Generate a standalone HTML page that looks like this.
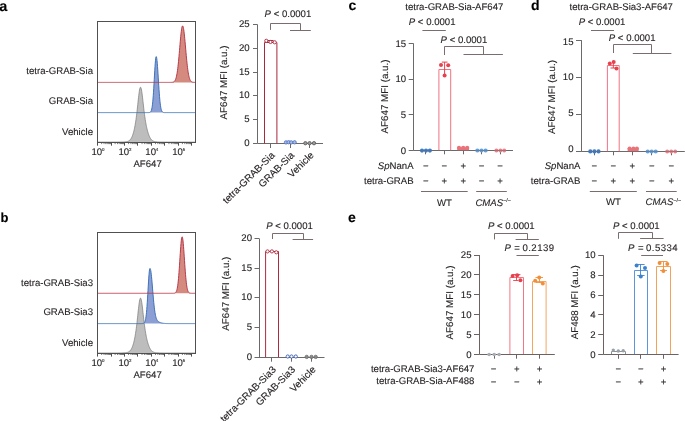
<!DOCTYPE html>
<html><head><meta charset="utf-8"><style>
html,body{margin:0;padding:0;background:#fff;width:685px;height:421px;overflow:hidden}
svg{display:block;will-change:transform}
text{font-family:"Liberation Sans", sans-serif;text-rendering:geometricPrecision;stroke:#231f20;stroke-width:0.12px;stroke-linejoin:round;paint-order:stroke}
</style></head><body>
<svg width="685" height="421" viewBox="0 0 685 421" font-family='"Liberation Sans", sans-serif'>
<rect width="685" height="421" fill="#fff"/>
<text x="-0.7" y="10.5" font-size="14.5" text-anchor="start" font-weight="bold" font-style="normal" fill="#000" >a</text>
<text x="0.4" y="222.1" font-size="13" text-anchor="start" font-weight="bold" font-style="normal" fill="#000" >b</text>
<text x="348.5" y="10.4" font-size="14" text-anchor="start" font-weight="bold" font-style="normal" fill="#000" >c</text>
<text x="531" y="10.4" font-size="14" text-anchor="start" font-weight="bold" font-style="normal" fill="#000" >d</text>
<text x="348" y="221.5" font-size="14" text-anchor="start" font-weight="bold" font-style="normal" fill="#000" >e</text>
<path d="M97.50,142.10 L97.75,142.10 L98.00,142.10 L98.25,142.10 L98.50,142.10 L98.75,142.10 L99.00,142.10 L99.25,142.10 L99.50,142.10 L99.75,142.10 L100.00,142.10 L100.25,142.10 L100.50,142.10 L100.75,142.10 L101.00,142.10 L101.25,142.10 L101.50,142.10 L101.75,142.10 L102.00,142.10 L102.25,142.10 L102.50,142.10 L102.75,142.10 L103.00,142.10 L103.25,142.10 L103.50,142.10 L103.75,142.10 L104.00,142.10 L104.25,142.10 L104.50,142.10 L104.75,142.10 L105.00,142.10 L105.25,142.10 L105.50,142.10 L105.75,142.10 L106.00,142.10 L106.25,142.10 L106.50,142.10 L106.75,142.10 L107.00,142.10 L107.25,142.10 L107.50,142.10 L107.75,142.10 L108.00,142.10 L108.25,142.10 L108.50,142.10 L108.75,142.10 L109.00,142.10 L109.25,142.10 L109.50,142.10 L109.75,142.10 L110.00,142.10 L110.25,142.10 L110.50,142.10 L110.75,142.10 L111.00,142.10 L111.25,142.10 L111.50,142.09 L111.75,142.09 L112.00,142.09 L112.25,142.09 L112.50,142.09 L112.75,142.09 L113.00,142.09 L113.25,142.09 L113.50,142.09 L113.75,142.09 L114.00,142.09 L114.25,142.09 L114.50,142.09 L114.75,142.08 L115.00,142.08 L115.25,142.08 L115.50,142.08 L115.75,142.08 L116.00,142.08 L116.25,142.08 L116.50,142.07 L116.75,142.07 L117.00,142.07 L117.25,142.07 L117.50,142.07 L117.75,142.06 L118.00,142.06 L118.25,142.06 L118.50,142.05 L118.75,142.05 L119.00,142.05 L119.25,142.04 L119.50,142.04 L119.75,142.04 L120.00,142.03 L120.25,142.03 L120.50,142.02 L120.75,142.02 L121.00,142.01 L121.25,142.01 L121.50,142.00 L121.75,141.99 L122.00,141.99 L122.25,141.98 L122.50,141.97 L122.75,141.96 L123.00,141.96 L123.25,141.95 L123.50,141.94 L123.75,141.92 L124.00,141.91 L124.25,141.90 L124.50,141.88 L124.75,141.86 L125.00,141.85 L125.25,141.82 L125.50,141.80 L125.75,141.77 L126.00,141.74 L126.25,141.70 L126.50,141.66 L126.75,141.62 L127.00,141.57 L127.25,141.50 L127.50,141.44 L127.75,141.36 L128.00,141.27 L128.25,141.16 L128.50,141.05 L128.75,140.92 L129.00,140.76 L129.25,140.59 L129.50,140.40 L129.75,140.19 L130.00,139.94 L130.25,139.67 L130.50,139.37 L130.75,139.04 L131.00,138.66 L131.25,138.25 L131.50,137.80 L131.75,137.31 L132.00,136.76 L132.25,136.17 L132.50,135.53 L132.75,134.84 L133.00,134.08 L133.25,133.27 L133.50,132.40 L133.75,131.46 L134.00,130.46 L134.25,129.38 L134.50,128.23 L134.75,126.99 L135.00,125.67 L135.25,124.25 L135.50,122.74 L135.75,121.12 L136.00,119.40 L136.25,117.57 L136.50,115.62 L136.75,113.58 L137.00,111.43 L137.25,109.20 L137.50,106.90 L137.75,104.55 L138.00,102.19 L138.25,99.86 L138.50,97.60 L138.75,95.44 L139.00,93.44 L139.25,91.65 L139.50,90.11 L139.75,88.87 L140.00,87.95 L140.25,87.39 L140.50,87.20 L140.75,87.38 L141.00,87.92 L141.25,88.80 L141.50,90.00 L141.75,91.48 L142.00,93.20 L142.25,95.12 L142.50,97.18 L142.75,99.35 L143.00,101.59 L143.25,103.84 L143.50,106.08 L143.75,108.27 L144.00,110.40 L144.25,112.45 L144.50,114.41 L144.75,116.26 L145.00,118.01 L145.25,119.67 L145.50,121.22 L145.75,122.69 L146.00,124.06 L146.25,125.36 L146.50,126.57 L146.75,127.72 L147.00,128.80 L147.25,129.82 L147.50,130.78 L147.75,131.68 L148.00,132.54 L148.25,133.33 L148.50,134.08 L148.75,134.78 L149.00,135.44 L149.25,136.04 L149.50,136.61 L149.75,137.13 L150.00,137.61 L150.25,138.05 L150.50,138.46 L150.75,138.83 L151.00,139.17 L151.25,139.48 L151.50,139.75 L151.75,140.00 L152.00,140.23 L152.25,140.43 L152.50,140.61 L152.75,140.78 L153.00,140.92 L153.25,141.05 L153.50,141.17 L153.75,141.27 L154.00,141.36 L154.25,141.44 L154.50,141.51 L154.75,141.57 L155.00,141.62 L155.25,141.67 L155.50,141.71 L155.75,141.75 L156.00,141.78 L156.25,141.81 L156.50,141.84 L156.75,141.86 L157.00,141.88 L157.25,141.90 L157.50,141.91 L157.75,141.93 L158.00,141.94 L158.25,141.95 L158.50,141.96 L158.75,141.97 L159.00,141.98 L159.25,141.99 L159.50,142.00 L159.75,142.00 L160.00,142.01 L160.25,142.02 L160.50,142.02 L160.75,142.03 L161.00,142.03 L161.25,142.04 L161.50,142.04 L161.75,142.04 L162.00,142.05 L162.25,142.05 L162.50,142.05 L162.75,142.06 L163.00,142.06 L163.25,142.06 L163.50,142.07 L163.75,142.07 L164.00,142.07 L164.25,142.07 L164.50,142.07 L164.75,142.08 L165.00,142.08 L165.25,142.08 L165.50,142.08 L165.75,142.08 L166.00,142.08 L166.25,142.08 L166.50,142.09 L166.75,142.09 L167.00,142.09 L167.25,142.09 L167.50,142.09 L167.75,142.09 L168.00,142.09 L168.25,142.09 L168.50,142.09 L168.75,142.09 L169.00,142.09 L169.25,142.09 L169.50,142.09 L169.75,142.10 L170.00,142.10 L170.25,142.10 L170.50,142.10 L170.75,142.10 L171.00,142.10 L171.25,142.10 L171.50,142.10 L171.75,142.10 L172.00,142.10 L172.25,142.10 L172.50,142.10 L172.75,142.10 L173.00,142.10 L173.25,142.10 L173.50,142.10 L173.75,142.10 L174.00,142.10 L174.25,142.10 L174.50,142.10 L174.75,142.10 L175.00,142.10 L175.25,142.10 L175.50,142.10 L175.75,142.10 L176.00,142.10 L176.25,142.10 L176.50,142.10 L176.75,142.10 L177.00,142.10 L177.25,142.10 L177.50,142.10 L177.75,142.10 L178.00,142.10 L178.25,142.10 L178.50,142.10 L178.75,142.10 L179.00,142.10 L179.25,142.10 L179.50,142.10 L179.75,142.10 L180.00,142.10 L180.25,142.10 L180.50,142.10 L180.75,142.10 L181.00,142.10 L181.25,142.10 L181.50,142.10 L181.75,142.10 L182.00,142.10 L182.25,142.10 L182.50,142.10 L182.75,142.10 L183.00,142.10 L183.25,142.10 L183.50,142.10 L183.75,142.10 L184.00,142.10 L184.25,142.10 L184.50,142.10 L184.75,142.10 L185.00,142.10 L185.25,142.10 L185.50,142.10 L185.75,142.10 L186.00,142.10 L186.25,142.10 L186.50,142.10 L186.75,142.10 L187.00,142.10 L187.25,142.10 L187.50,142.10 L187.75,142.10 L188.00,142.10 L188.25,142.10 L188.50,142.10 L188.75,142.10 L189.00,142.10 L189.25,142.10 L189.50,142.10 L189.75,142.10 L190.00,142.10 L190.25,142.10 L190.50,142.10 L190.75,142.10 L191.00,142.10 L191.25,142.10 L191.50,142.10 L191.75,142.10 L192.00,142.10 L192.25,142.10 L192.50,142.10 L192.75,142.10 L193.00,142.10 L193.25,142.10 L193.50,142.10 L193.75,142.10 L194.00,142.10 L194.25,142.10 L194.50,142.10 L194.75,142.10 L195.00,142.10 L195.25,142.10 L195.50,142.10 L195.50,142.1 L97.50,142.1 Z" fill="#bdbdbd" stroke="none"/>
<path d="M97.50,142.10 L97.75,142.10 L98.00,142.10 L98.25,142.10 L98.50,142.10 L98.75,142.10 L99.00,142.10 L99.25,142.10 L99.50,142.10 L99.75,142.10 L100.00,142.10 L100.25,142.10 L100.50,142.10 L100.75,142.10 L101.00,142.10 L101.25,142.10 L101.50,142.10 L101.75,142.10 L102.00,142.10 L102.25,142.10 L102.50,142.10 L102.75,142.10 L103.00,142.10 L103.25,142.10 L103.50,142.10 L103.75,142.10 L104.00,142.10 L104.25,142.10 L104.50,142.10 L104.75,142.10 L105.00,142.10 L105.25,142.10 L105.50,142.10 L105.75,142.10 L106.00,142.10 L106.25,142.10 L106.50,142.10 L106.75,142.10 L107.00,142.10 L107.25,142.10 L107.50,142.10 L107.75,142.10 L108.00,142.10 L108.25,142.10 L108.50,142.10 L108.75,142.10 L109.00,142.10 L109.25,142.10 L109.50,142.10 L109.75,142.10 L110.00,142.10 L110.25,142.10 L110.50,142.10 L110.75,142.10 L111.00,142.10 L111.25,142.10 L111.50,142.09 L111.75,142.09 L112.00,142.09 L112.25,142.09 L112.50,142.09 L112.75,142.09 L113.00,142.09 L113.25,142.09 L113.50,142.09 L113.75,142.09 L114.00,142.09 L114.25,142.09 L114.50,142.09 L114.75,142.08 L115.00,142.08 L115.25,142.08 L115.50,142.08 L115.75,142.08 L116.00,142.08 L116.25,142.08 L116.50,142.07 L116.75,142.07 L117.00,142.07 L117.25,142.07 L117.50,142.07 L117.75,142.06 L118.00,142.06 L118.25,142.06 L118.50,142.05 L118.75,142.05 L119.00,142.05 L119.25,142.04 L119.50,142.04 L119.75,142.04 L120.00,142.03 L120.25,142.03 L120.50,142.02 L120.75,142.02 L121.00,142.01 L121.25,142.01 L121.50,142.00 L121.75,141.99 L122.00,141.99 L122.25,141.98 L122.50,141.97 L122.75,141.96 L123.00,141.96 L123.25,141.95 L123.50,141.94 L123.75,141.92 L124.00,141.91 L124.25,141.90 L124.50,141.88 L124.75,141.86 L125.00,141.85 L125.25,141.82 L125.50,141.80 L125.75,141.77 L126.00,141.74 L126.25,141.70 L126.50,141.66 L126.75,141.62 L127.00,141.57 L127.25,141.50 L127.50,141.44 L127.75,141.36 L128.00,141.27 L128.25,141.16 L128.50,141.05 L128.75,140.92 L129.00,140.76 L129.25,140.59 L129.50,140.40 L129.75,140.19 L130.00,139.94 L130.25,139.67 L130.50,139.37 L130.75,139.04 L131.00,138.66 L131.25,138.25 L131.50,137.80 L131.75,137.31 L132.00,136.76 L132.25,136.17 L132.50,135.53 L132.75,134.84 L133.00,134.08 L133.25,133.27 L133.50,132.40 L133.75,131.46 L134.00,130.46 L134.25,129.38 L134.50,128.23 L134.75,126.99 L135.00,125.67 L135.25,124.25 L135.50,122.74 L135.75,121.12 L136.00,119.40 L136.25,117.57 L136.50,115.62 L136.75,113.58 L137.00,111.43 L137.25,109.20 L137.50,106.90 L137.75,104.55 L138.00,102.19 L138.25,99.86 L138.50,97.60 L138.75,95.44 L139.00,93.44 L139.25,91.65 L139.50,90.11 L139.75,88.87 L140.00,87.95 L140.25,87.39 L140.50,87.20 L140.75,87.38 L141.00,87.92 L141.25,88.80 L141.50,90.00 L141.75,91.48 L142.00,93.20 L142.25,95.12 L142.50,97.18 L142.75,99.35 L143.00,101.59 L143.25,103.84 L143.50,106.08 L143.75,108.27 L144.00,110.40 L144.25,112.45 L144.50,114.41 L144.75,116.26 L145.00,118.01 L145.25,119.67 L145.50,121.22 L145.75,122.69 L146.00,124.06 L146.25,125.36 L146.50,126.57 L146.75,127.72 L147.00,128.80 L147.25,129.82 L147.50,130.78 L147.75,131.68 L148.00,132.54 L148.25,133.33 L148.50,134.08 L148.75,134.78 L149.00,135.44 L149.25,136.04 L149.50,136.61 L149.75,137.13 L150.00,137.61 L150.25,138.05 L150.50,138.46 L150.75,138.83 L151.00,139.17 L151.25,139.48 L151.50,139.75 L151.75,140.00 L152.00,140.23 L152.25,140.43 L152.50,140.61 L152.75,140.78 L153.00,140.92 L153.25,141.05 L153.50,141.17 L153.75,141.27 L154.00,141.36 L154.25,141.44 L154.50,141.51 L154.75,141.57 L155.00,141.62 L155.25,141.67 L155.50,141.71 L155.75,141.75 L156.00,141.78 L156.25,141.81 L156.50,141.84 L156.75,141.86 L157.00,141.88 L157.25,141.90 L157.50,141.91 L157.75,141.93 L158.00,141.94 L158.25,141.95 L158.50,141.96 L158.75,141.97 L159.00,141.98 L159.25,141.99 L159.50,142.00 L159.75,142.00 L160.00,142.01 L160.25,142.02 L160.50,142.02 L160.75,142.03 L161.00,142.03 L161.25,142.04 L161.50,142.04 L161.75,142.04 L162.00,142.05 L162.25,142.05 L162.50,142.05 L162.75,142.06 L163.00,142.06 L163.25,142.06 L163.50,142.07 L163.75,142.07 L164.00,142.07 L164.25,142.07 L164.50,142.07 L164.75,142.08 L165.00,142.08 L165.25,142.08 L165.50,142.08 L165.75,142.08 L166.00,142.08 L166.25,142.08 L166.50,142.09 L166.75,142.09 L167.00,142.09 L167.25,142.09 L167.50,142.09 L167.75,142.09 L168.00,142.09 L168.25,142.09 L168.50,142.09 L168.75,142.09 L169.00,142.09 L169.25,142.09 L169.50,142.09 L169.75,142.10 L170.00,142.10 L170.25,142.10 L170.50,142.10 L170.75,142.10 L171.00,142.10 L171.25,142.10 L171.50,142.10 L171.75,142.10 L172.00,142.10 L172.25,142.10 L172.50,142.10 L172.75,142.10 L173.00,142.10 L173.25,142.10 L173.50,142.10 L173.75,142.10 L174.00,142.10 L174.25,142.10 L174.50,142.10 L174.75,142.10 L175.00,142.10 L175.25,142.10 L175.50,142.10 L175.75,142.10 L176.00,142.10 L176.25,142.10 L176.50,142.10 L176.75,142.10 L177.00,142.10 L177.25,142.10 L177.50,142.10 L177.75,142.10 L178.00,142.10 L178.25,142.10 L178.50,142.10 L178.75,142.10 L179.00,142.10 L179.25,142.10 L179.50,142.10 L179.75,142.10 L180.00,142.10 L180.25,142.10 L180.50,142.10 L180.75,142.10 L181.00,142.10 L181.25,142.10 L181.50,142.10 L181.75,142.10 L182.00,142.10 L182.25,142.10 L182.50,142.10 L182.75,142.10 L183.00,142.10 L183.25,142.10 L183.50,142.10 L183.75,142.10 L184.00,142.10 L184.25,142.10 L184.50,142.10 L184.75,142.10 L185.00,142.10 L185.25,142.10 L185.50,142.10 L185.75,142.10 L186.00,142.10 L186.25,142.10 L186.50,142.10 L186.75,142.10 L187.00,142.10 L187.25,142.10 L187.50,142.10 L187.75,142.10 L188.00,142.10 L188.25,142.10 L188.50,142.10 L188.75,142.10 L189.00,142.10 L189.25,142.10 L189.50,142.10 L189.75,142.10 L190.00,142.10 L190.25,142.10 L190.50,142.10 L190.75,142.10 L191.00,142.10 L191.25,142.10 L191.50,142.10 L191.75,142.10 L192.00,142.10 L192.25,142.10 L192.50,142.10 L192.75,142.10 L193.00,142.10 L193.25,142.10 L193.50,142.10 L193.75,142.10 L194.00,142.10 L194.25,142.10 L194.50,142.10 L194.75,142.10 L195.00,142.10 L195.25,142.10 L195.50,142.10" fill="none" stroke="#777777" stroke-width="0.7"/>
<path d="M97.50,112.60 L97.75,112.60 L98.00,112.60 L98.25,112.60 L98.50,112.60 L98.75,112.60 L99.00,112.60 L99.25,112.60 L99.50,112.60 L99.75,112.60 L100.00,112.60 L100.25,112.60 L100.50,112.60 L100.75,112.60 L101.00,112.60 L101.25,112.60 L101.50,112.60 L101.75,112.60 L102.00,112.60 L102.25,112.60 L102.50,112.60 L102.75,112.60 L103.00,112.60 L103.25,112.60 L103.50,112.60 L103.75,112.60 L104.00,112.60 L104.25,112.60 L104.50,112.60 L104.75,112.60 L105.00,112.60 L105.25,112.60 L105.50,112.60 L105.75,112.60 L106.00,112.60 L106.25,112.60 L106.50,112.60 L106.75,112.60 L107.00,112.60 L107.25,112.60 L107.50,112.60 L107.75,112.60 L108.00,112.60 L108.25,112.60 L108.50,112.60 L108.75,112.60 L109.00,112.60 L109.25,112.60 L109.50,112.60 L109.75,112.60 L110.00,112.60 L110.25,112.60 L110.50,112.60 L110.75,112.60 L111.00,112.60 L111.25,112.60 L111.50,112.60 L111.75,112.60 L112.00,112.60 L112.25,112.60 L112.50,112.60 L112.75,112.60 L113.00,112.60 L113.25,112.60 L113.50,112.60 L113.75,112.60 L114.00,112.60 L114.25,112.60 L114.50,112.60 L114.75,112.60 L115.00,112.60 L115.25,112.60 L115.50,112.60 L115.75,112.60 L116.00,112.60 L116.25,112.60 L116.50,112.60 L116.75,112.60 L117.00,112.60 L117.25,112.60 L117.50,112.60 L117.75,112.60 L118.00,112.60 L118.25,112.60 L118.50,112.60 L118.75,112.60 L119.00,112.60 L119.25,112.60 L119.50,112.60 L119.75,112.60 L120.00,112.60 L120.25,112.60 L120.50,112.60 L120.75,112.60 L121.00,112.60 L121.25,112.60 L121.50,112.60 L121.75,112.60 L122.00,112.60 L122.25,112.60 L122.50,112.60 L122.75,112.60 L123.00,112.60 L123.25,112.60 L123.50,112.60 L123.75,112.60 L124.00,112.60 L124.25,112.60 L124.50,112.60 L124.75,112.60 L125.00,112.60 L125.25,112.60 L125.50,112.60 L125.75,112.60 L126.00,112.60 L126.25,112.60 L126.50,112.60 L126.75,112.60 L127.00,112.60 L127.25,112.60 L127.50,112.60 L127.75,112.60 L128.00,112.60 L128.25,112.60 L128.50,112.60 L128.75,112.60 L129.00,112.60 L129.25,112.60 L129.50,112.60 L129.75,112.60 L130.00,112.60 L130.25,112.60 L130.50,112.60 L130.75,112.60 L131.00,112.60 L131.25,112.60 L131.50,112.60 L131.75,112.60 L132.00,112.60 L132.25,112.60 L132.50,112.60 L132.75,112.60 L133.00,112.60 L133.25,112.60 L133.50,112.60 L133.75,112.60 L134.00,112.60 L134.25,112.60 L134.50,112.60 L134.75,112.60 L135.00,112.60 L135.25,112.60 L135.50,112.60 L135.75,112.60 L136.00,112.60 L136.25,112.60 L136.50,112.60 L136.75,112.60 L137.00,112.60 L137.25,112.60 L137.50,112.60 L137.75,112.60 L138.00,112.60 L138.25,112.60 L138.50,112.60 L138.75,112.60 L139.00,112.60 L139.25,112.60 L139.50,112.60 L139.75,112.60 L140.00,112.60 L140.25,112.60 L140.50,112.60 L140.75,112.60 L141.00,112.60 L141.25,112.60 L141.50,112.60 L141.75,112.60 L142.00,112.60 L142.25,112.60 L142.50,112.60 L142.75,112.60 L143.00,112.60 L143.25,112.60 L143.50,112.60 L143.75,112.60 L144.00,112.60 L144.25,112.60 L144.50,112.60 L144.75,112.60 L145.00,112.60 L145.25,112.60 L145.50,112.60 L145.75,112.60 L146.00,112.60 L146.25,112.60 L146.50,112.60 L146.75,112.60 L147.00,112.60 L147.25,112.60 L147.50,112.60 L147.75,112.60 L148.00,112.59 L148.25,112.59 L148.50,112.58 L148.75,112.57 L149.00,112.56 L149.25,112.53 L149.50,112.49 L149.75,112.42 L150.00,112.33 L150.25,112.18 L150.50,111.98 L150.75,111.68 L151.00,111.28 L151.25,110.72 L151.50,109.97 L151.75,108.99 L152.00,107.73 L152.25,106.15 L152.50,104.19 L152.75,101.83 L153.00,99.04 L153.25,95.82 L153.50,92.20 L153.75,88.21 L154.00,83.95 L154.25,79.53 L154.50,75.07 L154.75,70.75 L155.00,66.73 L155.25,63.18 L155.50,60.27 L155.75,58.15 L156.00,56.91 L156.25,56.62 L156.50,57.17 L156.75,58.49 L157.00,60.52 L157.25,63.18 L157.50,66.36 L157.75,69.95 L158.00,73.82 L158.25,77.83 L158.50,81.86 L158.75,85.81 L159.00,89.58 L159.25,93.10 L159.50,96.31 L159.75,99.18 L160.00,101.71 L160.25,103.88 L160.50,105.72 L160.75,107.24 L161.00,108.49 L161.25,109.49 L161.50,110.28 L161.75,110.90 L162.00,111.36 L162.25,111.72 L162.50,111.98 L162.75,112.17 L163.00,112.30 L163.25,112.40 L163.50,112.47 L163.75,112.51 L164.00,112.54 L164.25,112.56 L164.50,112.58 L164.75,112.59 L165.00,112.59 L165.25,112.59 L165.50,112.60 L165.75,112.60 L166.00,112.60 L166.25,112.60 L166.50,112.60 L166.75,112.60 L167.00,112.60 L167.25,112.60 L167.50,112.60 L167.75,112.60 L168.00,112.60 L168.25,112.60 L168.50,112.60 L168.75,112.60 L169.00,112.60 L169.25,112.60 L169.50,112.60 L169.75,112.60 L170.00,112.60 L170.25,112.60 L170.50,112.60 L170.75,112.60 L171.00,112.60 L171.25,112.60 L171.50,112.60 L171.75,112.60 L172.00,112.60 L172.25,112.60 L172.50,112.60 L172.75,112.60 L173.00,112.60 L173.25,112.60 L173.50,112.60 L173.75,112.60 L174.00,112.60 L174.25,112.60 L174.50,112.60 L174.75,112.60 L175.00,112.60 L175.25,112.60 L175.50,112.60 L175.75,112.60 L176.00,112.60 L176.25,112.60 L176.50,112.60 L176.75,112.60 L177.00,112.60 L177.25,112.60 L177.50,112.60 L177.75,112.60 L178.00,112.60 L178.25,112.60 L178.50,112.60 L178.75,112.60 L179.00,112.60 L179.25,112.60 L179.50,112.60 L179.75,112.60 L180.00,112.60 L180.25,112.60 L180.50,112.60 L180.75,112.60 L181.00,112.60 L181.25,112.60 L181.50,112.60 L181.75,112.60 L182.00,112.60 L182.25,112.60 L182.50,112.60 L182.75,112.60 L183.00,112.60 L183.25,112.60 L183.50,112.60 L183.75,112.60 L184.00,112.60 L184.25,112.60 L184.50,112.60 L184.75,112.60 L185.00,112.60 L185.25,112.60 L185.50,112.60 L185.75,112.60 L186.00,112.60 L186.25,112.60 L186.50,112.60 L186.75,112.60 L187.00,112.60 L187.25,112.60 L187.50,112.60 L187.75,112.60 L188.00,112.60 L188.25,112.60 L188.50,112.60 L188.75,112.60 L189.00,112.60 L189.25,112.60 L189.50,112.60 L189.75,112.60 L190.00,112.60 L190.25,112.60 L190.50,112.60 L190.75,112.60 L191.00,112.60 L191.25,112.60 L191.50,112.60 L191.75,112.60 L192.00,112.60 L192.25,112.60 L192.50,112.60 L192.75,112.60 L193.00,112.60 L193.25,112.60 L193.50,112.60 L193.75,112.60 L194.00,112.60 L194.25,112.60 L194.50,112.60 L194.75,112.60 L195.00,112.60 L195.25,112.60 L195.50,112.60 L195.50,112.6 L97.50,112.6 Z" fill="#8c9fd4" stroke="none"/>
<path d="M97.50,112.60 L97.75,112.60 L98.00,112.60 L98.25,112.60 L98.50,112.60 L98.75,112.60 L99.00,112.60 L99.25,112.60 L99.50,112.60 L99.75,112.60 L100.00,112.60 L100.25,112.60 L100.50,112.60 L100.75,112.60 L101.00,112.60 L101.25,112.60 L101.50,112.60 L101.75,112.60 L102.00,112.60 L102.25,112.60 L102.50,112.60 L102.75,112.60 L103.00,112.60 L103.25,112.60 L103.50,112.60 L103.75,112.60 L104.00,112.60 L104.25,112.60 L104.50,112.60 L104.75,112.60 L105.00,112.60 L105.25,112.60 L105.50,112.60 L105.75,112.60 L106.00,112.60 L106.25,112.60 L106.50,112.60 L106.75,112.60 L107.00,112.60 L107.25,112.60 L107.50,112.60 L107.75,112.60 L108.00,112.60 L108.25,112.60 L108.50,112.60 L108.75,112.60 L109.00,112.60 L109.25,112.60 L109.50,112.60 L109.75,112.60 L110.00,112.60 L110.25,112.60 L110.50,112.60 L110.75,112.60 L111.00,112.60 L111.25,112.60 L111.50,112.60 L111.75,112.60 L112.00,112.60 L112.25,112.60 L112.50,112.60 L112.75,112.60 L113.00,112.60 L113.25,112.60 L113.50,112.60 L113.75,112.60 L114.00,112.60 L114.25,112.60 L114.50,112.60 L114.75,112.60 L115.00,112.60 L115.25,112.60 L115.50,112.60 L115.75,112.60 L116.00,112.60 L116.25,112.60 L116.50,112.60 L116.75,112.60 L117.00,112.60 L117.25,112.60 L117.50,112.60 L117.75,112.60 L118.00,112.60 L118.25,112.60 L118.50,112.60 L118.75,112.60 L119.00,112.60 L119.25,112.60 L119.50,112.60 L119.75,112.60 L120.00,112.60 L120.25,112.60 L120.50,112.60 L120.75,112.60 L121.00,112.60 L121.25,112.60 L121.50,112.60 L121.75,112.60 L122.00,112.60 L122.25,112.60 L122.50,112.60 L122.75,112.60 L123.00,112.60 L123.25,112.60 L123.50,112.60 L123.75,112.60 L124.00,112.60 L124.25,112.60 L124.50,112.60 L124.75,112.60 L125.00,112.60 L125.25,112.60 L125.50,112.60 L125.75,112.60 L126.00,112.60 L126.25,112.60 L126.50,112.60 L126.75,112.60 L127.00,112.60 L127.25,112.60 L127.50,112.60 L127.75,112.60 L128.00,112.60 L128.25,112.60 L128.50,112.60 L128.75,112.60 L129.00,112.60 L129.25,112.60 L129.50,112.60 L129.75,112.60 L130.00,112.60 L130.25,112.60 L130.50,112.60 L130.75,112.60 L131.00,112.60 L131.25,112.60 L131.50,112.60 L131.75,112.60 L132.00,112.60 L132.25,112.60 L132.50,112.60 L132.75,112.60 L133.00,112.60 L133.25,112.60 L133.50,112.60 L133.75,112.60 L134.00,112.60 L134.25,112.60 L134.50,112.60 L134.75,112.60 L135.00,112.60 L135.25,112.60 L135.50,112.60 L135.75,112.60 L136.00,112.60 L136.25,112.60 L136.50,112.60 L136.75,112.60 L137.00,112.60 L137.25,112.60 L137.50,112.60 L137.75,112.60 L138.00,112.60 L138.25,112.60 L138.50,112.60 L138.75,112.60 L139.00,112.60 L139.25,112.60 L139.50,112.60 L139.75,112.60 L140.00,112.60 L140.25,112.60 L140.50,112.60 L140.75,112.60 L141.00,112.60 L141.25,112.60 L141.50,112.60 L141.75,112.60 L142.00,112.60 L142.25,112.60 L142.50,112.60 L142.75,112.60 L143.00,112.60 L143.25,112.60 L143.50,112.60 L143.75,112.60 L144.00,112.60 L144.25,112.60 L144.50,112.60 L144.75,112.60 L145.00,112.60 L145.25,112.60 L145.50,112.60 L145.75,112.60 L146.00,112.60 L146.25,112.60 L146.50,112.60 L146.75,112.60 L147.00,112.60 L147.25,112.60 L147.50,112.60 L147.75,112.60 L148.00,112.59 L148.25,112.59 L148.50,112.58 L148.75,112.57 L149.00,112.56 L149.25,112.53 L149.50,112.49 L149.75,112.42 L150.00,112.33 L150.25,112.18 L150.50,111.98 L150.75,111.68 L151.00,111.28 L151.25,110.72 L151.50,109.97 L151.75,108.99 L152.00,107.73 L152.25,106.15 L152.50,104.19 L152.75,101.83 L153.00,99.04 L153.25,95.82 L153.50,92.20 L153.75,88.21 L154.00,83.95 L154.25,79.53 L154.50,75.07 L154.75,70.75 L155.00,66.73 L155.25,63.18 L155.50,60.27 L155.75,58.15 L156.00,56.91 L156.25,56.62 L156.50,57.17 L156.75,58.49 L157.00,60.52 L157.25,63.18 L157.50,66.36 L157.75,69.95 L158.00,73.82 L158.25,77.83 L158.50,81.86 L158.75,85.81 L159.00,89.58 L159.25,93.10 L159.50,96.31 L159.75,99.18 L160.00,101.71 L160.25,103.88 L160.50,105.72 L160.75,107.24 L161.00,108.49 L161.25,109.49 L161.50,110.28 L161.75,110.90 L162.00,111.36 L162.25,111.72 L162.50,111.98 L162.75,112.17 L163.00,112.30 L163.25,112.40 L163.50,112.47 L163.75,112.51 L164.00,112.54 L164.25,112.56 L164.50,112.58 L164.75,112.59 L165.00,112.59 L165.25,112.59 L165.50,112.60 L165.75,112.60 L166.00,112.60 L166.25,112.60 L166.50,112.60 L166.75,112.60 L167.00,112.60 L167.25,112.60 L167.50,112.60 L167.75,112.60 L168.00,112.60 L168.25,112.60 L168.50,112.60 L168.75,112.60 L169.00,112.60 L169.25,112.60 L169.50,112.60 L169.75,112.60 L170.00,112.60 L170.25,112.60 L170.50,112.60 L170.75,112.60 L171.00,112.60 L171.25,112.60 L171.50,112.60 L171.75,112.60 L172.00,112.60 L172.25,112.60 L172.50,112.60 L172.75,112.60 L173.00,112.60 L173.25,112.60 L173.50,112.60 L173.75,112.60 L174.00,112.60 L174.25,112.60 L174.50,112.60 L174.75,112.60 L175.00,112.60 L175.25,112.60 L175.50,112.60 L175.75,112.60 L176.00,112.60 L176.25,112.60 L176.50,112.60 L176.75,112.60 L177.00,112.60 L177.25,112.60 L177.50,112.60 L177.75,112.60 L178.00,112.60 L178.25,112.60 L178.50,112.60 L178.75,112.60 L179.00,112.60 L179.25,112.60 L179.50,112.60 L179.75,112.60 L180.00,112.60 L180.25,112.60 L180.50,112.60 L180.75,112.60 L181.00,112.60 L181.25,112.60 L181.50,112.60 L181.75,112.60 L182.00,112.60 L182.25,112.60 L182.50,112.60 L182.75,112.60 L183.00,112.60 L183.25,112.60 L183.50,112.60 L183.75,112.60 L184.00,112.60 L184.25,112.60 L184.50,112.60 L184.75,112.60 L185.00,112.60 L185.25,112.60 L185.50,112.60 L185.75,112.60 L186.00,112.60 L186.25,112.60 L186.50,112.60 L186.75,112.60 L187.00,112.60 L187.25,112.60 L187.50,112.60 L187.75,112.60 L188.00,112.60 L188.25,112.60 L188.50,112.60 L188.75,112.60 L189.00,112.60 L189.25,112.60 L189.50,112.60 L189.75,112.60 L190.00,112.60 L190.25,112.60 L190.50,112.60 L190.75,112.60 L191.00,112.60 L191.25,112.60 L191.50,112.60 L191.75,112.60 L192.00,112.60 L192.25,112.60 L192.50,112.60 L192.75,112.60 L193.00,112.60 L193.25,112.60 L193.50,112.60 L193.75,112.60 L194.00,112.60 L194.25,112.60 L194.50,112.60 L194.75,112.60 L195.00,112.60 L195.25,112.60 L195.50,112.60" fill="none" stroke="#3d72b8" stroke-width="1.0"/>
<path d="M97.50,82.40 L97.75,82.40 L98.00,82.40 L98.25,82.40 L98.50,82.40 L98.75,82.40 L99.00,82.40 L99.25,82.40 L99.50,82.40 L99.75,82.40 L100.00,82.40 L100.25,82.40 L100.50,82.40 L100.75,82.40 L101.00,82.40 L101.25,82.40 L101.50,82.40 L101.75,82.40 L102.00,82.40 L102.25,82.40 L102.50,82.40 L102.75,82.40 L103.00,82.40 L103.25,82.40 L103.50,82.40 L103.75,82.40 L104.00,82.40 L104.25,82.40 L104.50,82.40 L104.75,82.40 L105.00,82.40 L105.25,82.40 L105.50,82.40 L105.75,82.40 L106.00,82.40 L106.25,82.40 L106.50,82.40 L106.75,82.40 L107.00,82.40 L107.25,82.40 L107.50,82.40 L107.75,82.40 L108.00,82.40 L108.25,82.40 L108.50,82.40 L108.75,82.40 L109.00,82.40 L109.25,82.40 L109.50,82.40 L109.75,82.40 L110.00,82.40 L110.25,82.40 L110.50,82.40 L110.75,82.40 L111.00,82.40 L111.25,82.40 L111.50,82.40 L111.75,82.40 L112.00,82.40 L112.25,82.40 L112.50,82.40 L112.75,82.40 L113.00,82.40 L113.25,82.40 L113.50,82.40 L113.75,82.40 L114.00,82.40 L114.25,82.40 L114.50,82.40 L114.75,82.40 L115.00,82.40 L115.25,82.40 L115.50,82.40 L115.75,82.40 L116.00,82.40 L116.25,82.40 L116.50,82.40 L116.75,82.40 L117.00,82.40 L117.25,82.40 L117.50,82.40 L117.75,82.40 L118.00,82.40 L118.25,82.40 L118.50,82.40 L118.75,82.40 L119.00,82.40 L119.25,82.40 L119.50,82.40 L119.75,82.40 L120.00,82.40 L120.25,82.40 L120.50,82.40 L120.75,82.40 L121.00,82.40 L121.25,82.40 L121.50,82.40 L121.75,82.40 L122.00,82.40 L122.25,82.40 L122.50,82.40 L122.75,82.40 L123.00,82.40 L123.25,82.40 L123.50,82.40 L123.75,82.40 L124.00,82.40 L124.25,82.40 L124.50,82.40 L124.75,82.40 L125.00,82.40 L125.25,82.40 L125.50,82.40 L125.75,82.40 L126.00,82.40 L126.25,82.40 L126.50,82.40 L126.75,82.40 L127.00,82.40 L127.25,82.40 L127.50,82.40 L127.75,82.40 L128.00,82.40 L128.25,82.40 L128.50,82.40 L128.75,82.40 L129.00,82.40 L129.25,82.40 L129.50,82.40 L129.75,82.40 L130.00,82.40 L130.25,82.40 L130.50,82.40 L130.75,82.40 L131.00,82.40 L131.25,82.40 L131.50,82.40 L131.75,82.40 L132.00,82.40 L132.25,82.40 L132.50,82.40 L132.75,82.40 L133.00,82.40 L133.25,82.40 L133.50,82.40 L133.75,82.40 L134.00,82.40 L134.25,82.40 L134.50,82.40 L134.75,82.40 L135.00,82.40 L135.25,82.40 L135.50,82.40 L135.75,82.40 L136.00,82.40 L136.25,82.40 L136.50,82.40 L136.75,82.40 L137.00,82.40 L137.25,82.40 L137.50,82.40 L137.75,82.40 L138.00,82.40 L138.25,82.40 L138.50,82.40 L138.75,82.40 L139.00,82.40 L139.25,82.40 L139.50,82.40 L139.75,82.40 L140.00,82.40 L140.25,82.40 L140.50,82.40 L140.75,82.40 L141.00,82.40 L141.25,82.40 L141.50,82.40 L141.75,82.40 L142.00,82.40 L142.25,82.40 L142.50,82.40 L142.75,82.40 L143.00,82.40 L143.25,82.40 L143.50,82.40 L143.75,82.40 L144.00,82.40 L144.25,82.40 L144.50,82.40 L144.75,82.40 L145.00,82.40 L145.25,82.40 L145.50,82.40 L145.75,82.40 L146.00,82.40 L146.25,82.40 L146.50,82.40 L146.75,82.40 L147.00,82.40 L147.25,82.40 L147.50,82.40 L147.75,82.40 L148.00,82.40 L148.25,82.40 L148.50,82.40 L148.75,82.40 L149.00,82.40 L149.25,82.40 L149.50,82.40 L149.75,82.40 L150.00,82.40 L150.25,82.40 L150.50,82.40 L150.75,82.40 L151.00,82.40 L151.25,82.40 L151.50,82.40 L151.75,82.40 L152.00,82.40 L152.25,82.40 L152.50,82.40 L152.75,82.40 L153.00,82.40 L153.25,82.40 L153.50,82.40 L153.75,82.40 L154.00,82.40 L154.25,82.40 L154.50,82.40 L154.75,82.40 L155.00,82.40 L155.25,82.40 L155.50,82.40 L155.75,82.40 L156.00,82.40 L156.25,82.40 L156.50,82.40 L156.75,82.40 L157.00,82.40 L157.25,82.40 L157.50,82.40 L157.75,82.40 L158.00,82.40 L158.25,82.40 L158.50,82.40 L158.75,82.40 L159.00,82.40 L159.25,82.40 L159.50,82.40 L159.75,82.40 L160.00,82.40 L160.25,82.40 L160.50,82.40 L160.75,82.40 L161.00,82.40 L161.25,82.40 L161.50,82.40 L161.75,82.40 L162.00,82.40 L162.25,82.40 L162.50,82.40 L162.75,82.40 L163.00,82.40 L163.25,82.40 L163.50,82.40 L163.75,82.40 L164.00,82.40 L164.25,82.40 L164.50,82.40 L164.75,82.40 L165.00,82.40 L165.25,82.40 L165.50,82.40 L165.75,82.40 L166.00,82.40 L166.25,82.40 L166.50,82.40 L166.75,82.40 L167.00,82.40 L167.25,82.40 L167.50,82.40 L167.75,82.40 L168.00,82.40 L168.25,82.40 L168.50,82.40 L168.75,82.40 L169.00,82.40 L169.25,82.40 L169.50,82.40 L169.75,82.40 L170.00,82.40 L170.25,82.39 L170.50,82.39 L170.75,82.39 L171.00,82.38 L171.25,82.37 L171.50,82.36 L171.75,82.35 L172.00,82.33 L172.25,82.30 L172.50,82.27 L172.75,82.22 L173.00,82.16 L173.25,82.09 L173.50,81.99 L173.75,81.86 L174.00,81.70 L174.25,81.51 L174.50,81.26 L174.75,80.95 L175.00,80.58 L175.25,80.12 L175.50,79.58 L175.75,78.93 L176.00,78.16 L176.25,77.26 L176.50,76.22 L176.75,75.01 L177.00,73.64 L177.25,72.10 L177.50,70.36 L177.75,68.45 L178.00,66.34 L178.25,64.06 L178.50,61.60 L178.75,58.99 L179.00,56.25 L179.25,53.41 L179.50,50.49 L179.75,47.54 L180.00,44.60 L180.25,41.71 L180.50,38.93 L180.75,36.30 L181.00,33.88 L181.25,31.70 L181.50,29.82 L181.75,28.28 L182.00,27.10 L182.25,26.31 L182.50,25.93 L182.75,25.97 L183.00,26.40 L183.25,27.21 L183.50,28.39 L183.75,29.90 L184.00,31.73 L184.25,33.83 L184.50,36.17 L184.75,38.70 L185.00,41.37 L185.25,44.15 L185.50,46.99 L185.75,49.84 L186.00,52.67 L186.25,55.45 L186.50,58.13 L186.75,60.70 L187.00,63.13 L187.25,65.40 L187.50,67.52 L187.75,69.45 L188.00,71.22 L188.25,72.81 L188.50,74.23 L188.75,75.49 L189.00,76.60 L189.25,77.56 L189.50,78.39 L189.75,79.10 L190.00,79.70 L190.25,80.21 L190.50,80.64 L190.75,80.99 L191.00,81.28 L191.25,81.52 L191.50,81.71 L191.75,81.86 L192.00,81.98 L192.25,82.08 L192.50,82.16 L192.75,82.22 L193.00,82.26 L193.25,82.30 L193.50,82.32 L193.75,82.34 L194.00,82.36 L194.25,82.37 L194.50,82.38 L194.75,82.38 L195.00,82.39 L195.25,82.39 L195.50,82.39 L195.50,82.4 L97.50,82.4 Z" fill="#d58a80" stroke="none"/>
<path d="M97.50,82.40 L97.75,82.40 L98.00,82.40 L98.25,82.40 L98.50,82.40 L98.75,82.40 L99.00,82.40 L99.25,82.40 L99.50,82.40 L99.75,82.40 L100.00,82.40 L100.25,82.40 L100.50,82.40 L100.75,82.40 L101.00,82.40 L101.25,82.40 L101.50,82.40 L101.75,82.40 L102.00,82.40 L102.25,82.40 L102.50,82.40 L102.75,82.40 L103.00,82.40 L103.25,82.40 L103.50,82.40 L103.75,82.40 L104.00,82.40 L104.25,82.40 L104.50,82.40 L104.75,82.40 L105.00,82.40 L105.25,82.40 L105.50,82.40 L105.75,82.40 L106.00,82.40 L106.25,82.40 L106.50,82.40 L106.75,82.40 L107.00,82.40 L107.25,82.40 L107.50,82.40 L107.75,82.40 L108.00,82.40 L108.25,82.40 L108.50,82.40 L108.75,82.40 L109.00,82.40 L109.25,82.40 L109.50,82.40 L109.75,82.40 L110.00,82.40 L110.25,82.40 L110.50,82.40 L110.75,82.40 L111.00,82.40 L111.25,82.40 L111.50,82.40 L111.75,82.40 L112.00,82.40 L112.25,82.40 L112.50,82.40 L112.75,82.40 L113.00,82.40 L113.25,82.40 L113.50,82.40 L113.75,82.40 L114.00,82.40 L114.25,82.40 L114.50,82.40 L114.75,82.40 L115.00,82.40 L115.25,82.40 L115.50,82.40 L115.75,82.40 L116.00,82.40 L116.25,82.40 L116.50,82.40 L116.75,82.40 L117.00,82.40 L117.25,82.40 L117.50,82.40 L117.75,82.40 L118.00,82.40 L118.25,82.40 L118.50,82.40 L118.75,82.40 L119.00,82.40 L119.25,82.40 L119.50,82.40 L119.75,82.40 L120.00,82.40 L120.25,82.40 L120.50,82.40 L120.75,82.40 L121.00,82.40 L121.25,82.40 L121.50,82.40 L121.75,82.40 L122.00,82.40 L122.25,82.40 L122.50,82.40 L122.75,82.40 L123.00,82.40 L123.25,82.40 L123.50,82.40 L123.75,82.40 L124.00,82.40 L124.25,82.40 L124.50,82.40 L124.75,82.40 L125.00,82.40 L125.25,82.40 L125.50,82.40 L125.75,82.40 L126.00,82.40 L126.25,82.40 L126.50,82.40 L126.75,82.40 L127.00,82.40 L127.25,82.40 L127.50,82.40 L127.75,82.40 L128.00,82.40 L128.25,82.40 L128.50,82.40 L128.75,82.40 L129.00,82.40 L129.25,82.40 L129.50,82.40 L129.75,82.40 L130.00,82.40 L130.25,82.40 L130.50,82.40 L130.75,82.40 L131.00,82.40 L131.25,82.40 L131.50,82.40 L131.75,82.40 L132.00,82.40 L132.25,82.40 L132.50,82.40 L132.75,82.40 L133.00,82.40 L133.25,82.40 L133.50,82.40 L133.75,82.40 L134.00,82.40 L134.25,82.40 L134.50,82.40 L134.75,82.40 L135.00,82.40 L135.25,82.40 L135.50,82.40 L135.75,82.40 L136.00,82.40 L136.25,82.40 L136.50,82.40 L136.75,82.40 L137.00,82.40 L137.25,82.40 L137.50,82.40 L137.75,82.40 L138.00,82.40 L138.25,82.40 L138.50,82.40 L138.75,82.40 L139.00,82.40 L139.25,82.40 L139.50,82.40 L139.75,82.40 L140.00,82.40 L140.25,82.40 L140.50,82.40 L140.75,82.40 L141.00,82.40 L141.25,82.40 L141.50,82.40 L141.75,82.40 L142.00,82.40 L142.25,82.40 L142.50,82.40 L142.75,82.40 L143.00,82.40 L143.25,82.40 L143.50,82.40 L143.75,82.40 L144.00,82.40 L144.25,82.40 L144.50,82.40 L144.75,82.40 L145.00,82.40 L145.25,82.40 L145.50,82.40 L145.75,82.40 L146.00,82.40 L146.25,82.40 L146.50,82.40 L146.75,82.40 L147.00,82.40 L147.25,82.40 L147.50,82.40 L147.75,82.40 L148.00,82.40 L148.25,82.40 L148.50,82.40 L148.75,82.40 L149.00,82.40 L149.25,82.40 L149.50,82.40 L149.75,82.40 L150.00,82.40 L150.25,82.40 L150.50,82.40 L150.75,82.40 L151.00,82.40 L151.25,82.40 L151.50,82.40 L151.75,82.40 L152.00,82.40 L152.25,82.40 L152.50,82.40 L152.75,82.40 L153.00,82.40 L153.25,82.40 L153.50,82.40 L153.75,82.40 L154.00,82.40 L154.25,82.40 L154.50,82.40 L154.75,82.40 L155.00,82.40 L155.25,82.40 L155.50,82.40 L155.75,82.40 L156.00,82.40 L156.25,82.40 L156.50,82.40 L156.75,82.40 L157.00,82.40 L157.25,82.40 L157.50,82.40 L157.75,82.40 L158.00,82.40 L158.25,82.40 L158.50,82.40 L158.75,82.40 L159.00,82.40 L159.25,82.40 L159.50,82.40 L159.75,82.40 L160.00,82.40 L160.25,82.40 L160.50,82.40 L160.75,82.40 L161.00,82.40 L161.25,82.40 L161.50,82.40 L161.75,82.40 L162.00,82.40 L162.25,82.40 L162.50,82.40 L162.75,82.40 L163.00,82.40 L163.25,82.40 L163.50,82.40 L163.75,82.40 L164.00,82.40 L164.25,82.40 L164.50,82.40 L164.75,82.40 L165.00,82.40 L165.25,82.40 L165.50,82.40 L165.75,82.40 L166.00,82.40 L166.25,82.40 L166.50,82.40 L166.75,82.40 L167.00,82.40 L167.25,82.40 L167.50,82.40 L167.75,82.40 L168.00,82.40 L168.25,82.40 L168.50,82.40 L168.75,82.40 L169.00,82.40 L169.25,82.40 L169.50,82.40 L169.75,82.40 L170.00,82.40 L170.25,82.39 L170.50,82.39 L170.75,82.39 L171.00,82.38 L171.25,82.37 L171.50,82.36 L171.75,82.35 L172.00,82.33 L172.25,82.30 L172.50,82.27 L172.75,82.22 L173.00,82.16 L173.25,82.09 L173.50,81.99 L173.75,81.86 L174.00,81.70 L174.25,81.51 L174.50,81.26 L174.75,80.95 L175.00,80.58 L175.25,80.12 L175.50,79.58 L175.75,78.93 L176.00,78.16 L176.25,77.26 L176.50,76.22 L176.75,75.01 L177.00,73.64 L177.25,72.10 L177.50,70.36 L177.75,68.45 L178.00,66.34 L178.25,64.06 L178.50,61.60 L178.75,58.99 L179.00,56.25 L179.25,53.41 L179.50,50.49 L179.75,47.54 L180.00,44.60 L180.25,41.71 L180.50,38.93 L180.75,36.30 L181.00,33.88 L181.25,31.70 L181.50,29.82 L181.75,28.28 L182.00,27.10 L182.25,26.31 L182.50,25.93 L182.75,25.97 L183.00,26.40 L183.25,27.21 L183.50,28.39 L183.75,29.90 L184.00,31.73 L184.25,33.83 L184.50,36.17 L184.75,38.70 L185.00,41.37 L185.25,44.15 L185.50,46.99 L185.75,49.84 L186.00,52.67 L186.25,55.45 L186.50,58.13 L186.75,60.70 L187.00,63.13 L187.25,65.40 L187.50,67.52 L187.75,69.45 L188.00,71.22 L188.25,72.81 L188.50,74.23 L188.75,75.49 L189.00,76.60 L189.25,77.56 L189.50,78.39 L189.75,79.10 L190.00,79.70 L190.25,80.21 L190.50,80.64 L190.75,80.99 L191.00,81.28 L191.25,81.52 L191.50,81.71 L191.75,81.86 L192.00,81.98 L192.25,82.08 L192.50,82.16 L192.75,82.22 L193.00,82.26 L193.25,82.30 L193.50,82.32 L193.75,82.34 L194.00,82.36 L194.25,82.37 L194.50,82.38 L194.75,82.38 L195.00,82.39 L195.25,82.39 L195.50,82.39" fill="none" stroke="#b73a4a" stroke-width="1.0"/>
<rect x="97.5" y="21.5" width="98.0" height="121.0" fill="none" stroke="#505050" stroke-width="1"/>
<line x1="97.5" y1="142.1" x2="97.5" y2="145.7" stroke="#505050" stroke-width="1"/>
<line x1="101.65186374163719" y1="142.1" x2="101.65186374163719" y2="144.1" stroke="#505050" stroke-width="0.75"/>
<line x1="104.02205208852665" y1="142.1" x2="104.02205208852665" y2="144.1" stroke="#505050" stroke-width="0.75"/>
<line x1="105.70372748327436" y1="142.1" x2="105.70372748327436" y2="144.1" stroke="#505050" stroke-width="0.75"/>
<line x1="107.00813625836281" y1="142.1" x2="107.00813625836281" y2="144.1" stroke="#505050" stroke-width="0.75"/>
<line x1="108.07391583016384" y1="142.1" x2="108.07391583016384" y2="144.1" stroke="#505050" stroke-width="0.75"/>
<line x1="108.97501961859189" y1="142.1" x2="108.97501961859189" y2="144.1" stroke="#505050" stroke-width="0.75"/>
<line x1="109.75559122491156" y1="142.1" x2="109.75559122491156" y2="144.1" stroke="#505050" stroke-width="0.75"/>
<line x1="110.4441041770533" y1="142.1" x2="110.4441041770533" y2="144.1" stroke="#505050" stroke-width="0.75"/>
<line x1="111.5" y1="142.1" x2="111.5" y2="145.7" stroke="#505050" stroke-width="1"/>
<line x1="115.11186374163718" y1="142.1" x2="115.11186374163718" y2="144.1" stroke="#505050" stroke-width="0.75"/>
<line x1="117.48205208852664" y1="142.1" x2="117.48205208852664" y2="144.1" stroke="#505050" stroke-width="0.75"/>
<line x1="119.16372748327437" y1="142.1" x2="119.16372748327437" y2="144.1" stroke="#505050" stroke-width="0.75"/>
<line x1="120.4681362583628" y1="142.1" x2="120.4681362583628" y2="144.1" stroke="#505050" stroke-width="0.75"/>
<line x1="121.53391583016383" y1="142.1" x2="121.53391583016383" y2="144.1" stroke="#505050" stroke-width="0.75"/>
<line x1="122.4350196185919" y1="142.1" x2="122.4350196185919" y2="144.1" stroke="#505050" stroke-width="0.75"/>
<line x1="123.21559122491155" y1="142.1" x2="123.21559122491155" y2="144.1" stroke="#505050" stroke-width="0.75"/>
<line x1="123.90410417705331" y1="142.1" x2="123.90410417705331" y2="144.1" stroke="#505050" stroke-width="0.75"/>
<line x1="124.5" y1="142.1" x2="124.5" y2="145.7" stroke="#505050" stroke-width="1"/>
<line x1="128.57186374163717" y1="142.1" x2="128.57186374163717" y2="144.1" stroke="#505050" stroke-width="0.75"/>
<line x1="130.94205208852665" y1="142.1" x2="130.94205208852665" y2="144.1" stroke="#505050" stroke-width="0.75"/>
<line x1="132.62372748327437" y1="142.1" x2="132.62372748327437" y2="144.1" stroke="#505050" stroke-width="0.75"/>
<line x1="133.92813625836283" y1="142.1" x2="133.92813625836283" y2="144.1" stroke="#505050" stroke-width="0.75"/>
<line x1="134.99391583016384" y1="142.1" x2="134.99391583016384" y2="144.1" stroke="#505050" stroke-width="0.75"/>
<line x1="135.8950196185919" y1="142.1" x2="135.8950196185919" y2="144.1" stroke="#505050" stroke-width="0.75"/>
<line x1="136.67559122491156" y1="142.1" x2="136.67559122491156" y2="144.1" stroke="#505050" stroke-width="0.75"/>
<line x1="137.36410417705332" y1="142.1" x2="137.36410417705332" y2="144.1" stroke="#505050" stroke-width="0.75"/>
<line x1="137.5" y1="142.1" x2="137.5" y2="145.7" stroke="#505050" stroke-width="1"/>
<line x1="142.03186374163718" y1="142.1" x2="142.03186374163718" y2="144.1" stroke="#505050" stroke-width="0.75"/>
<line x1="144.40205208852666" y1="142.1" x2="144.40205208852666" y2="144.1" stroke="#505050" stroke-width="0.75"/>
<line x1="146.08372748327437" y1="142.1" x2="146.08372748327437" y2="144.1" stroke="#505050" stroke-width="0.75"/>
<line x1="147.3881362583628" y1="142.1" x2="147.3881362583628" y2="144.1" stroke="#505050" stroke-width="0.75"/>
<line x1="148.45391583016385" y1="142.1" x2="148.45391583016385" y2="144.1" stroke="#505050" stroke-width="0.75"/>
<line x1="149.35501961859188" y1="142.1" x2="149.35501961859188" y2="144.1" stroke="#505050" stroke-width="0.75"/>
<line x1="150.13559122491156" y1="142.1" x2="150.13559122491156" y2="144.1" stroke="#505050" stroke-width="0.75"/>
<line x1="150.8241041770533" y1="142.1" x2="150.8241041770533" y2="144.1" stroke="#505050" stroke-width="0.75"/>
<line x1="151.5" y1="142.1" x2="151.5" y2="145.7" stroke="#505050" stroke-width="1"/>
<line x1="155.4918637416372" y1="142.1" x2="155.4918637416372" y2="144.1" stroke="#505050" stroke-width="0.75"/>
<line x1="157.86205208852667" y1="142.1" x2="157.86205208852667" y2="144.1" stroke="#505050" stroke-width="0.75"/>
<line x1="159.54372748327438" y1="142.1" x2="159.54372748327438" y2="144.1" stroke="#505050" stroke-width="0.75"/>
<line x1="160.8481362583628" y1="142.1" x2="160.8481362583628" y2="144.1" stroke="#505050" stroke-width="0.75"/>
<line x1="161.91391583016383" y1="142.1" x2="161.91391583016383" y2="144.1" stroke="#505050" stroke-width="0.75"/>
<line x1="162.8150196185919" y1="142.1" x2="162.8150196185919" y2="144.1" stroke="#505050" stroke-width="0.75"/>
<line x1="163.59559122491157" y1="142.1" x2="163.59559122491157" y2="144.1" stroke="#505050" stroke-width="0.75"/>
<line x1="164.28410417705334" y1="142.1" x2="164.28410417705334" y2="144.1" stroke="#505050" stroke-width="0.75"/>
<line x1="164.5" y1="142.1" x2="164.5" y2="145.7" stroke="#505050" stroke-width="1"/>
<line x1="168.95186374163717" y1="142.1" x2="168.95186374163717" y2="144.1" stroke="#505050" stroke-width="0.75"/>
<line x1="171.32205208852668" y1="142.1" x2="171.32205208852668" y2="144.1" stroke="#505050" stroke-width="0.75"/>
<line x1="173.00372748327436" y1="142.1" x2="173.00372748327436" y2="144.1" stroke="#505050" stroke-width="0.75"/>
<line x1="174.30813625836282" y1="142.1" x2="174.30813625836282" y2="144.1" stroke="#505050" stroke-width="0.75"/>
<line x1="175.37391583016387" y1="142.1" x2="175.37391583016387" y2="144.1" stroke="#505050" stroke-width="0.75"/>
<line x1="176.2750196185919" y1="142.1" x2="176.2750196185919" y2="144.1" stroke="#505050" stroke-width="0.75"/>
<line x1="177.05559122491155" y1="142.1" x2="177.05559122491155" y2="144.1" stroke="#505050" stroke-width="0.75"/>
<line x1="177.74410417705332" y1="142.1" x2="177.74410417705332" y2="144.1" stroke="#505050" stroke-width="0.75"/>
<line x1="178.5" y1="142.1" x2="178.5" y2="145.7" stroke="#505050" stroke-width="1"/>
<line x1="182.4118637416372" y1="142.1" x2="182.4118637416372" y2="144.1" stroke="#505050" stroke-width="0.75"/>
<line x1="184.78205208852665" y1="142.1" x2="184.78205208852665" y2="144.1" stroke="#505050" stroke-width="0.75"/>
<line x1="186.46372748327437" y1="142.1" x2="186.46372748327437" y2="144.1" stroke="#505050" stroke-width="0.75"/>
<line x1="187.7681362583628" y1="142.1" x2="187.7681362583628" y2="144.1" stroke="#505050" stroke-width="0.75"/>
<line x1="188.83391583016385" y1="142.1" x2="188.83391583016385" y2="144.1" stroke="#505050" stroke-width="0.75"/>
<line x1="189.73501961859188" y1="142.1" x2="189.73501961859188" y2="144.1" stroke="#505050" stroke-width="0.75"/>
<line x1="190.51559122491156" y1="142.1" x2="190.51559122491156" y2="144.1" stroke="#505050" stroke-width="0.75"/>
<line x1="191.20410417705332" y1="142.1" x2="191.20410417705332" y2="144.1" stroke="#505050" stroke-width="0.75"/>
<line x1="191.5" y1="142.1" x2="191.5" y2="145.7" stroke="#505050" stroke-width="1"/>
<text x="91.5" y="154.79999999999998" font-size="9.6" fill="#231f20">10<tspan font-size="4.4" dx="-0.2" dy="-4.0">0</tspan></text>
<text x="118.42" y="154.79999999999998" font-size="9.6" fill="#231f20">10<tspan font-size="4.4" dx="-0.2" dy="-4.0">2</tspan></text>
<text x="145.34" y="154.79999999999998" font-size="9.6" fill="#231f20">10<tspan font-size="4.4" dx="-0.2" dy="-4.0">4</tspan></text>
<text x="172.26000000000002" y="154.79999999999998" font-size="9.6" fill="#231f20">10<tspan font-size="4.4" dx="-0.2" dy="-4.0">6</tspan></text>
<text x="147.6" y="166.6" font-size="9.6" text-anchor="middle" font-weight="normal" font-style="normal" fill="#231f20" >AF647</text>
<text x="93" y="73.8" font-size="9.6" text-anchor="end" font-weight="normal" font-style="normal" fill="#231f20" >tetra-GRAB-Sia</text>
<text x="93" y="103.9" font-size="9.6" text-anchor="end" font-weight="normal" font-style="normal" fill="#231f20" >GRAB-Sia</text>
<text x="93" y="134.7" font-size="9.6" text-anchor="end" font-weight="normal" font-style="normal" fill="#231f20" >Vehicle</text>
<line x1="257.5" y1="24.5" x2="257.5" y2="143.5" stroke="#6a6a6a" stroke-width="1"/>
<line x1="253.0" y1="143.5" x2="257.5" y2="143.5" stroke="#6a6a6a" stroke-width="1"/>
<text x="249.6" y="145.6" font-size="9.6" text-anchor="end" font-weight="normal" font-style="normal" fill="#231f20" >0</text>
<line x1="253.0" y1="119.5" x2="257.5" y2="119.5" stroke="#6a6a6a" stroke-width="1"/>
<text x="249.6" y="121.96" font-size="9.6" text-anchor="end" font-weight="normal" font-style="normal" fill="#231f20" >5</text>
<line x1="253.0" y1="95.5" x2="257.5" y2="95.5" stroke="#6a6a6a" stroke-width="1"/>
<text x="249.6" y="98.32" font-size="9.6" text-anchor="end" font-weight="normal" font-style="normal" fill="#231f20" >10</text>
<line x1="253.0" y1="72.5" x2="257.5" y2="72.5" stroke="#6a6a6a" stroke-width="1"/>
<text x="249.6" y="74.67999999999999" font-size="9.6" text-anchor="end" font-weight="normal" font-style="normal" fill="#231f20" >15</text>
<line x1="253.0" y1="48.5" x2="257.5" y2="48.5" stroke="#6a6a6a" stroke-width="1"/>
<text x="249.6" y="51.04" font-size="9.6" text-anchor="end" font-weight="normal" font-style="normal" fill="#231f20" >20</text>
<line x1="253.0" y1="24.5" x2="257.5" y2="24.5" stroke="#6a6a6a" stroke-width="1"/>
<text x="249.6" y="27.400000000000013" font-size="9.6" text-anchor="end" font-weight="normal" font-style="normal" fill="#231f20" >25</text>
<line x1="257.5" y1="143.5" x2="323" y2="143.5" stroke="#6a6a6a" stroke-width="1"/>
<line x1="270.5" y1="143.5" x2="270.5" y2="148.0" stroke="#6a6a6a" stroke-width="1"/>
<line x1="290.5" y1="143.5" x2="290.5" y2="148.0" stroke="#6a6a6a" stroke-width="1"/>
<line x1="309.5" y1="143.5" x2="309.5" y2="148.0" stroke="#6a6a6a" stroke-width="1"/>
<path d="M264.5,143.5 L264.5,42.5 L276.9,42.5 L276.9,143.5" fill="none" stroke="#a8283c" stroke-width="1"/>
<line x1="265.5" y1="40.5" x2="273.5" y2="40.5" stroke="#a8283c" stroke-width="1"/>
<circle cx="266.3" cy="40.8" r="1.6" fill="#fff" stroke="#a8283c" stroke-width="0.9"/>
<circle cx="270.5" cy="42.0" r="1.6" fill="#fff" stroke="#a8283c" stroke-width="0.9"/>
<circle cx="274.7" cy="42.3" r="1.6" fill="#fff" stroke="#a8283c" stroke-width="0.9"/>
<circle cx="286.0" cy="142.4" r="1.7" fill="#a9bbe6" stroke="#4a6fc0" stroke-width="0.8"/>
<circle cx="288.6" cy="142.2" r="1.7" fill="#a9bbe6" stroke="#4a6fc0" stroke-width="0.8"/>
<circle cx="291.2" cy="142.4" r="1.7" fill="#a9bbe6" stroke="#4a6fc0" stroke-width="0.8"/>
<circle cx="294.6" cy="142.3" r="1.7" fill="#a9bbe6" stroke="#4a6fc0" stroke-width="0.8"/>
<circle cx="305.4" cy="143.2" r="1.7" fill="#9a9a9a" stroke="#555" stroke-width="0.8"/>
<circle cx="309.6" cy="143.2" r="1.7" fill="#9a9a9a" stroke="#555" stroke-width="0.8"/>
<circle cx="314.0" cy="143.2" r="1.7" fill="#9a9a9a" stroke="#555" stroke-width="0.8"/>
<text x="223.3" y="82.5" font-size="9.8" text-anchor="middle" fill="#231f20" transform="rotate(-90 223.3 82.5)" dy="3.5">AF647 MFI (a.u.)</text>
<text x="264.6" y="17.3" font-size="9.6" text-anchor="start" fill="#231f20"><tspan font-style="italic">P</tspan> &lt; 0.0001</text>
<path d="M270.5,29.9 L270.5,23.5 L300.5,23.5 L300.5,30.5 M290,30.5 L310.8,30.5" fill="none" stroke="#7a6d6e" stroke-width="1"/>
<text x="275.3" y="155.8" font-size="9.9" text-anchor="end" fill="#231f20" transform="rotate(-45 275.3 155.8)">tetra-GRAB-Sia</text>
<text x="294.8" y="155.8" font-size="9.9" text-anchor="end" fill="#231f20" transform="rotate(-45 294.8 155.8)">GRAB-Sia</text>
<text x="314.4" y="155.8" font-size="9.9" text-anchor="end" fill="#231f20" transform="rotate(-45 314.4 155.8)">Vehicle</text>
<path d="M97.50,353.00 L97.75,353.00 L98.00,353.00 L98.25,353.00 L98.50,353.00 L98.75,353.00 L99.00,353.00 L99.25,353.00 L99.50,353.00 L99.75,353.00 L100.00,353.00 L100.25,353.00 L100.50,353.00 L100.75,353.00 L101.00,353.00 L101.25,353.00 L101.50,353.00 L101.75,353.00 L102.00,353.00 L102.25,353.00 L102.50,353.00 L102.75,353.00 L103.00,353.00 L103.25,353.00 L103.50,353.00 L103.75,353.00 L104.00,353.00 L104.25,353.00 L104.50,353.00 L104.75,353.00 L105.00,353.00 L105.25,353.00 L105.50,353.00 L105.75,353.00 L106.00,353.00 L106.25,353.00 L106.50,353.00 L106.75,353.00 L107.00,353.00 L107.25,353.00 L107.50,353.00 L107.75,353.00 L108.00,353.00 L108.25,353.00 L108.50,353.00 L108.75,353.00 L109.00,353.00 L109.25,353.00 L109.50,353.00 L109.75,353.00 L110.00,353.00 L110.25,353.00 L110.50,353.00 L110.75,353.00 L111.00,353.00 L111.25,353.00 L111.50,352.99 L111.75,352.99 L112.00,352.99 L112.25,352.99 L112.50,352.99 L112.75,352.99 L113.00,352.99 L113.25,352.99 L113.50,352.99 L113.75,352.99 L114.00,352.99 L114.25,352.99 L114.50,352.99 L114.75,352.98 L115.00,352.98 L115.25,352.98 L115.50,352.98 L115.75,352.98 L116.00,352.98 L116.25,352.98 L116.50,352.97 L116.75,352.97 L117.00,352.97 L117.25,352.97 L117.50,352.97 L117.75,352.96 L118.00,352.96 L118.25,352.96 L118.50,352.95 L118.75,352.95 L119.00,352.95 L119.25,352.94 L119.50,352.94 L119.75,352.94 L120.00,352.93 L120.25,352.93 L120.50,352.92 L120.75,352.92 L121.00,352.91 L121.25,352.91 L121.50,352.90 L121.75,352.89 L122.00,352.89 L122.25,352.88 L122.50,352.87 L122.75,352.86 L123.00,352.86 L123.25,352.85 L123.50,352.84 L123.75,352.82 L124.00,352.81 L124.25,352.80 L124.50,352.78 L124.75,352.76 L125.00,352.75 L125.25,352.72 L125.50,352.70 L125.75,352.67 L126.00,352.64 L126.25,352.60 L126.50,352.56 L126.75,352.52 L127.00,352.47 L127.25,352.40 L127.50,352.34 L127.75,352.26 L128.00,352.17 L128.25,352.06 L128.50,351.95 L128.75,351.82 L129.00,351.66 L129.25,351.49 L129.50,351.30 L129.75,351.09 L130.00,350.84 L130.25,350.57 L130.50,350.27 L130.75,349.94 L131.00,349.56 L131.25,349.15 L131.50,348.70 L131.75,348.21 L132.00,347.66 L132.25,347.07 L132.50,346.43 L132.75,345.74 L133.00,344.98 L133.25,344.17 L133.50,343.30 L133.75,342.36 L134.00,341.36 L134.25,340.28 L134.50,339.13 L134.75,337.89 L135.00,336.57 L135.25,335.15 L135.50,333.64 L135.75,332.02 L136.00,330.30 L136.25,328.47 L136.50,326.52 L136.75,324.48 L137.00,322.33 L137.25,320.10 L137.50,317.80 L137.75,315.45 L138.00,313.09 L138.25,310.76 L138.50,308.50 L138.75,306.34 L139.00,304.34 L139.25,302.55 L139.50,301.01 L139.75,299.77 L140.00,298.85 L140.25,298.29 L140.50,298.10 L140.75,298.28 L141.00,298.82 L141.25,299.70 L141.50,300.90 L141.75,302.38 L142.00,304.10 L142.25,306.02 L142.50,308.08 L142.75,310.25 L143.00,312.49 L143.25,314.74 L143.50,316.98 L143.75,319.17 L144.00,321.30 L144.25,323.35 L144.50,325.31 L144.75,327.16 L145.00,328.91 L145.25,330.57 L145.50,332.12 L145.75,333.59 L146.00,334.96 L146.25,336.26 L146.50,337.47 L146.75,338.62 L147.00,339.70 L147.25,340.72 L147.50,341.68 L147.75,342.58 L148.00,343.44 L148.25,344.23 L148.50,344.98 L148.75,345.68 L149.00,346.34 L149.25,346.94 L149.50,347.51 L149.75,348.03 L150.00,348.51 L150.25,348.95 L150.50,349.36 L150.75,349.73 L151.00,350.07 L151.25,350.38 L151.50,350.65 L151.75,350.90 L152.00,351.13 L152.25,351.33 L152.50,351.51 L152.75,351.68 L153.00,351.82 L153.25,351.95 L153.50,352.07 L153.75,352.17 L154.00,352.26 L154.25,352.34 L154.50,352.41 L154.75,352.47 L155.00,352.52 L155.25,352.57 L155.50,352.61 L155.75,352.65 L156.00,352.68 L156.25,352.71 L156.50,352.74 L156.75,352.76 L157.00,352.78 L157.25,352.80 L157.50,352.81 L157.75,352.83 L158.00,352.84 L158.25,352.85 L158.50,352.86 L158.75,352.87 L159.00,352.88 L159.25,352.89 L159.50,352.90 L159.75,352.90 L160.00,352.91 L160.25,352.92 L160.50,352.92 L160.75,352.93 L161.00,352.93 L161.25,352.94 L161.50,352.94 L161.75,352.94 L162.00,352.95 L162.25,352.95 L162.50,352.95 L162.75,352.96 L163.00,352.96 L163.25,352.96 L163.50,352.97 L163.75,352.97 L164.00,352.97 L164.25,352.97 L164.50,352.97 L164.75,352.98 L165.00,352.98 L165.25,352.98 L165.50,352.98 L165.75,352.98 L166.00,352.98 L166.25,352.98 L166.50,352.99 L166.75,352.99 L167.00,352.99 L167.25,352.99 L167.50,352.99 L167.75,352.99 L168.00,352.99 L168.25,352.99 L168.50,352.99 L168.75,352.99 L169.00,352.99 L169.25,352.99 L169.50,352.99 L169.75,353.00 L170.00,353.00 L170.25,353.00 L170.50,353.00 L170.75,353.00 L171.00,353.00 L171.25,353.00 L171.50,353.00 L171.75,353.00 L172.00,353.00 L172.25,353.00 L172.50,353.00 L172.75,353.00 L173.00,353.00 L173.25,353.00 L173.50,353.00 L173.75,353.00 L174.00,353.00 L174.25,353.00 L174.50,353.00 L174.75,353.00 L175.00,353.00 L175.25,353.00 L175.50,353.00 L175.75,353.00 L176.00,353.00 L176.25,353.00 L176.50,353.00 L176.75,353.00 L177.00,353.00 L177.25,353.00 L177.50,353.00 L177.75,353.00 L178.00,353.00 L178.25,353.00 L178.50,353.00 L178.75,353.00 L179.00,353.00 L179.25,353.00 L179.50,353.00 L179.75,353.00 L180.00,353.00 L180.25,353.00 L180.50,353.00 L180.75,353.00 L181.00,353.00 L181.25,353.00 L181.50,353.00 L181.75,353.00 L182.00,353.00 L182.25,353.00 L182.50,353.00 L182.75,353.00 L183.00,353.00 L183.25,353.00 L183.50,353.00 L183.75,353.00 L184.00,353.00 L184.25,353.00 L184.50,353.00 L184.75,353.00 L185.00,353.00 L185.25,353.00 L185.50,353.00 L185.75,353.00 L186.00,353.00 L186.25,353.00 L186.50,353.00 L186.75,353.00 L187.00,353.00 L187.25,353.00 L187.50,353.00 L187.75,353.00 L188.00,353.00 L188.25,353.00 L188.50,353.00 L188.75,353.00 L189.00,353.00 L189.25,353.00 L189.50,353.00 L189.75,353.00 L190.00,353.00 L190.25,353.00 L190.50,353.00 L190.75,353.00 L191.00,353.00 L191.25,353.00 L191.50,353.00 L191.75,353.00 L192.00,353.00 L192.25,353.00 L192.50,353.00 L192.75,353.00 L193.00,353.00 L193.25,353.00 L193.50,353.00 L193.75,353.00 L194.00,353.00 L194.25,353.00 L194.50,353.00 L194.75,353.00 L195.00,353.00 L195.25,353.00 L195.50,353.00 L195.50,353.0 L97.50,353.0 Z" fill="#bdbdbd" stroke="none"/>
<path d="M97.50,353.00 L97.75,353.00 L98.00,353.00 L98.25,353.00 L98.50,353.00 L98.75,353.00 L99.00,353.00 L99.25,353.00 L99.50,353.00 L99.75,353.00 L100.00,353.00 L100.25,353.00 L100.50,353.00 L100.75,353.00 L101.00,353.00 L101.25,353.00 L101.50,353.00 L101.75,353.00 L102.00,353.00 L102.25,353.00 L102.50,353.00 L102.75,353.00 L103.00,353.00 L103.25,353.00 L103.50,353.00 L103.75,353.00 L104.00,353.00 L104.25,353.00 L104.50,353.00 L104.75,353.00 L105.00,353.00 L105.25,353.00 L105.50,353.00 L105.75,353.00 L106.00,353.00 L106.25,353.00 L106.50,353.00 L106.75,353.00 L107.00,353.00 L107.25,353.00 L107.50,353.00 L107.75,353.00 L108.00,353.00 L108.25,353.00 L108.50,353.00 L108.75,353.00 L109.00,353.00 L109.25,353.00 L109.50,353.00 L109.75,353.00 L110.00,353.00 L110.25,353.00 L110.50,353.00 L110.75,353.00 L111.00,353.00 L111.25,353.00 L111.50,352.99 L111.75,352.99 L112.00,352.99 L112.25,352.99 L112.50,352.99 L112.75,352.99 L113.00,352.99 L113.25,352.99 L113.50,352.99 L113.75,352.99 L114.00,352.99 L114.25,352.99 L114.50,352.99 L114.75,352.98 L115.00,352.98 L115.25,352.98 L115.50,352.98 L115.75,352.98 L116.00,352.98 L116.25,352.98 L116.50,352.97 L116.75,352.97 L117.00,352.97 L117.25,352.97 L117.50,352.97 L117.75,352.96 L118.00,352.96 L118.25,352.96 L118.50,352.95 L118.75,352.95 L119.00,352.95 L119.25,352.94 L119.50,352.94 L119.75,352.94 L120.00,352.93 L120.25,352.93 L120.50,352.92 L120.75,352.92 L121.00,352.91 L121.25,352.91 L121.50,352.90 L121.75,352.89 L122.00,352.89 L122.25,352.88 L122.50,352.87 L122.75,352.86 L123.00,352.86 L123.25,352.85 L123.50,352.84 L123.75,352.82 L124.00,352.81 L124.25,352.80 L124.50,352.78 L124.75,352.76 L125.00,352.75 L125.25,352.72 L125.50,352.70 L125.75,352.67 L126.00,352.64 L126.25,352.60 L126.50,352.56 L126.75,352.52 L127.00,352.47 L127.25,352.40 L127.50,352.34 L127.75,352.26 L128.00,352.17 L128.25,352.06 L128.50,351.95 L128.75,351.82 L129.00,351.66 L129.25,351.49 L129.50,351.30 L129.75,351.09 L130.00,350.84 L130.25,350.57 L130.50,350.27 L130.75,349.94 L131.00,349.56 L131.25,349.15 L131.50,348.70 L131.75,348.21 L132.00,347.66 L132.25,347.07 L132.50,346.43 L132.75,345.74 L133.00,344.98 L133.25,344.17 L133.50,343.30 L133.75,342.36 L134.00,341.36 L134.25,340.28 L134.50,339.13 L134.75,337.89 L135.00,336.57 L135.25,335.15 L135.50,333.64 L135.75,332.02 L136.00,330.30 L136.25,328.47 L136.50,326.52 L136.75,324.48 L137.00,322.33 L137.25,320.10 L137.50,317.80 L137.75,315.45 L138.00,313.09 L138.25,310.76 L138.50,308.50 L138.75,306.34 L139.00,304.34 L139.25,302.55 L139.50,301.01 L139.75,299.77 L140.00,298.85 L140.25,298.29 L140.50,298.10 L140.75,298.28 L141.00,298.82 L141.25,299.70 L141.50,300.90 L141.75,302.38 L142.00,304.10 L142.25,306.02 L142.50,308.08 L142.75,310.25 L143.00,312.49 L143.25,314.74 L143.50,316.98 L143.75,319.17 L144.00,321.30 L144.25,323.35 L144.50,325.31 L144.75,327.16 L145.00,328.91 L145.25,330.57 L145.50,332.12 L145.75,333.59 L146.00,334.96 L146.25,336.26 L146.50,337.47 L146.75,338.62 L147.00,339.70 L147.25,340.72 L147.50,341.68 L147.75,342.58 L148.00,343.44 L148.25,344.23 L148.50,344.98 L148.75,345.68 L149.00,346.34 L149.25,346.94 L149.50,347.51 L149.75,348.03 L150.00,348.51 L150.25,348.95 L150.50,349.36 L150.75,349.73 L151.00,350.07 L151.25,350.38 L151.50,350.65 L151.75,350.90 L152.00,351.13 L152.25,351.33 L152.50,351.51 L152.75,351.68 L153.00,351.82 L153.25,351.95 L153.50,352.07 L153.75,352.17 L154.00,352.26 L154.25,352.34 L154.50,352.41 L154.75,352.47 L155.00,352.52 L155.25,352.57 L155.50,352.61 L155.75,352.65 L156.00,352.68 L156.25,352.71 L156.50,352.74 L156.75,352.76 L157.00,352.78 L157.25,352.80 L157.50,352.81 L157.75,352.83 L158.00,352.84 L158.25,352.85 L158.50,352.86 L158.75,352.87 L159.00,352.88 L159.25,352.89 L159.50,352.90 L159.75,352.90 L160.00,352.91 L160.25,352.92 L160.50,352.92 L160.75,352.93 L161.00,352.93 L161.25,352.94 L161.50,352.94 L161.75,352.94 L162.00,352.95 L162.25,352.95 L162.50,352.95 L162.75,352.96 L163.00,352.96 L163.25,352.96 L163.50,352.97 L163.75,352.97 L164.00,352.97 L164.25,352.97 L164.50,352.97 L164.75,352.98 L165.00,352.98 L165.25,352.98 L165.50,352.98 L165.75,352.98 L166.00,352.98 L166.25,352.98 L166.50,352.99 L166.75,352.99 L167.00,352.99 L167.25,352.99 L167.50,352.99 L167.75,352.99 L168.00,352.99 L168.25,352.99 L168.50,352.99 L168.75,352.99 L169.00,352.99 L169.25,352.99 L169.50,352.99 L169.75,353.00 L170.00,353.00 L170.25,353.00 L170.50,353.00 L170.75,353.00 L171.00,353.00 L171.25,353.00 L171.50,353.00 L171.75,353.00 L172.00,353.00 L172.25,353.00 L172.50,353.00 L172.75,353.00 L173.00,353.00 L173.25,353.00 L173.50,353.00 L173.75,353.00 L174.00,353.00 L174.25,353.00 L174.50,353.00 L174.75,353.00 L175.00,353.00 L175.25,353.00 L175.50,353.00 L175.75,353.00 L176.00,353.00 L176.25,353.00 L176.50,353.00 L176.75,353.00 L177.00,353.00 L177.25,353.00 L177.50,353.00 L177.75,353.00 L178.00,353.00 L178.25,353.00 L178.50,353.00 L178.75,353.00 L179.00,353.00 L179.25,353.00 L179.50,353.00 L179.75,353.00 L180.00,353.00 L180.25,353.00 L180.50,353.00 L180.75,353.00 L181.00,353.00 L181.25,353.00 L181.50,353.00 L181.75,353.00 L182.00,353.00 L182.25,353.00 L182.50,353.00 L182.75,353.00 L183.00,353.00 L183.25,353.00 L183.50,353.00 L183.75,353.00 L184.00,353.00 L184.25,353.00 L184.50,353.00 L184.75,353.00 L185.00,353.00 L185.25,353.00 L185.50,353.00 L185.75,353.00 L186.00,353.00 L186.25,353.00 L186.50,353.00 L186.75,353.00 L187.00,353.00 L187.25,353.00 L187.50,353.00 L187.75,353.00 L188.00,353.00 L188.25,353.00 L188.50,353.00 L188.75,353.00 L189.00,353.00 L189.25,353.00 L189.50,353.00 L189.75,353.00 L190.00,353.00 L190.25,353.00 L190.50,353.00 L190.75,353.00 L191.00,353.00 L191.25,353.00 L191.50,353.00 L191.75,353.00 L192.00,353.00 L192.25,353.00 L192.50,353.00 L192.75,353.00 L193.00,353.00 L193.25,353.00 L193.50,353.00 L193.75,353.00 L194.00,353.00 L194.25,353.00 L194.50,353.00 L194.75,353.00 L195.00,353.00 L195.25,353.00 L195.50,353.00" fill="none" stroke="#777777" stroke-width="0.7"/>
<path d="M97.50,323.60 L97.75,323.60 L98.00,323.60 L98.25,323.60 L98.50,323.60 L98.75,323.60 L99.00,323.60 L99.25,323.60 L99.50,323.60 L99.75,323.60 L100.00,323.60 L100.25,323.60 L100.50,323.60 L100.75,323.60 L101.00,323.60 L101.25,323.60 L101.50,323.60 L101.75,323.60 L102.00,323.60 L102.25,323.60 L102.50,323.60 L102.75,323.60 L103.00,323.60 L103.25,323.60 L103.50,323.60 L103.75,323.60 L104.00,323.60 L104.25,323.60 L104.50,323.60 L104.75,323.60 L105.00,323.60 L105.25,323.60 L105.50,323.60 L105.75,323.60 L106.00,323.60 L106.25,323.60 L106.50,323.60 L106.75,323.60 L107.00,323.60 L107.25,323.60 L107.50,323.60 L107.75,323.60 L108.00,323.60 L108.25,323.60 L108.50,323.60 L108.75,323.60 L109.00,323.60 L109.25,323.60 L109.50,323.60 L109.75,323.60 L110.00,323.60 L110.25,323.60 L110.50,323.60 L110.75,323.60 L111.00,323.60 L111.25,323.60 L111.50,323.60 L111.75,323.60 L112.00,323.60 L112.25,323.60 L112.50,323.60 L112.75,323.60 L113.00,323.60 L113.25,323.60 L113.50,323.60 L113.75,323.60 L114.00,323.60 L114.25,323.60 L114.50,323.60 L114.75,323.60 L115.00,323.60 L115.25,323.60 L115.50,323.60 L115.75,323.60 L116.00,323.60 L116.25,323.60 L116.50,323.60 L116.75,323.60 L117.00,323.60 L117.25,323.60 L117.50,323.60 L117.75,323.60 L118.00,323.60 L118.25,323.60 L118.50,323.60 L118.75,323.60 L119.00,323.60 L119.25,323.60 L119.50,323.60 L119.75,323.60 L120.00,323.60 L120.25,323.60 L120.50,323.60 L120.75,323.60 L121.00,323.60 L121.25,323.60 L121.50,323.60 L121.75,323.60 L122.00,323.60 L122.25,323.60 L122.50,323.60 L122.75,323.60 L123.00,323.60 L123.25,323.60 L123.50,323.60 L123.75,323.60 L124.00,323.60 L124.25,323.60 L124.50,323.60 L124.75,323.60 L125.00,323.60 L125.25,323.60 L125.50,323.60 L125.75,323.60 L126.00,323.60 L126.25,323.60 L126.50,323.60 L126.75,323.60 L127.00,323.60 L127.25,323.60 L127.50,323.60 L127.75,323.60 L128.00,323.60 L128.25,323.60 L128.50,323.60 L128.75,323.60 L129.00,323.60 L129.25,323.60 L129.50,323.60 L129.75,323.60 L130.00,323.60 L130.25,323.60 L130.50,323.60 L130.75,323.60 L131.00,323.60 L131.25,323.60 L131.50,323.60 L131.75,323.60 L132.00,323.60 L132.25,323.60 L132.50,323.60 L132.75,323.60 L133.00,323.60 L133.25,323.60 L133.50,323.60 L133.75,323.60 L134.00,323.60 L134.25,323.60 L134.50,323.60 L134.75,323.60 L135.00,323.60 L135.25,323.60 L135.50,323.60 L135.75,323.60 L136.00,323.60 L136.25,323.60 L136.50,323.60 L136.75,323.60 L137.00,323.60 L137.25,323.60 L137.50,323.60 L137.75,323.60 L138.00,323.60 L138.25,323.60 L138.50,323.60 L138.75,323.60 L139.00,323.60 L139.25,323.60 L139.50,323.60 L139.75,323.60 L140.00,323.60 L140.25,323.60 L140.50,323.60 L140.75,323.60 L141.00,323.59 L141.25,323.59 L141.50,323.59 L141.75,323.58 L142.00,323.58 L142.25,323.56 L142.50,323.55 L142.75,323.52 L143.00,323.48 L143.25,323.43 L143.50,323.35 L143.75,323.23 L144.00,323.07 L144.25,322.83 L144.50,322.51 L144.75,322.06 L145.00,321.47 L145.25,320.68 L145.50,319.66 L145.75,318.36 L146.00,316.73 L146.25,314.75 L146.50,312.37 L146.75,309.58 L147.00,306.38 L147.25,302.80 L147.50,298.88 L147.75,294.72 L148.00,290.42 L148.25,286.10 L148.50,281.94 L148.75,278.08 L149.00,274.69 L149.25,271.93 L149.50,269.91 L149.75,268.74 L150.00,268.44 L150.25,268.69 L150.50,269.44 L150.75,270.64 L151.00,272.27 L151.25,274.28 L151.50,276.63 L151.75,279.24 L152.00,282.07 L152.25,285.04 L152.50,288.08 L152.75,291.13 L153.00,294.13 L153.25,297.05 L153.50,299.84 L153.75,302.46 L154.00,304.91 L154.25,307.16 L154.50,309.20 L154.75,311.03 L155.00,312.66 L155.25,314.10 L155.50,315.36 L155.75,316.44 L156.00,317.38 L156.25,318.18 L156.50,318.86 L156.75,319.44 L157.00,319.92 L157.25,320.34 L157.50,320.69 L157.75,320.99 L158.00,321.25 L158.25,321.47 L158.50,321.66 L158.75,321.83 L159.00,321.99 L159.25,322.12 L159.50,322.24 L159.75,322.36 L160.00,322.46 L160.25,322.56 L160.50,322.64 L160.75,322.73 L161.00,322.80 L161.25,322.87 L161.50,322.94 L161.75,323.00 L162.00,323.06 L162.25,323.11 L162.50,323.16 L162.75,323.20 L163.00,323.24 L163.25,323.28 L163.50,323.32 L163.75,323.35 L164.00,323.38 L164.25,323.40 L164.50,323.42 L164.75,323.45 L165.00,323.46 L165.25,323.48 L165.50,323.50 L165.75,323.51 L166.00,323.52 L166.25,323.53 L166.50,323.54 L166.75,323.55 L167.00,323.56 L167.25,323.56 L167.50,323.57 L167.75,323.57 L168.00,323.58 L168.25,323.58 L168.50,323.58 L168.75,323.59 L169.00,323.59 L169.25,323.59 L169.50,323.59 L169.75,323.59 L170.00,323.59 L170.25,323.59 L170.50,323.60 L170.75,323.60 L171.00,323.60 L171.25,323.60 L171.50,323.60 L171.75,323.60 L172.00,323.60 L172.25,323.60 L172.50,323.60 L172.75,323.60 L173.00,323.60 L173.25,323.60 L173.50,323.60 L173.75,323.60 L174.00,323.60 L174.25,323.60 L174.50,323.60 L174.75,323.60 L175.00,323.60 L175.25,323.60 L175.50,323.60 L175.75,323.60 L176.00,323.60 L176.25,323.60 L176.50,323.60 L176.75,323.60 L177.00,323.60 L177.25,323.60 L177.50,323.60 L177.75,323.60 L178.00,323.60 L178.25,323.60 L178.50,323.60 L178.75,323.60 L179.00,323.60 L179.25,323.60 L179.50,323.60 L179.75,323.60 L180.00,323.60 L180.25,323.60 L180.50,323.60 L180.75,323.60 L181.00,323.60 L181.25,323.60 L181.50,323.60 L181.75,323.60 L182.00,323.60 L182.25,323.60 L182.50,323.60 L182.75,323.60 L183.00,323.60 L183.25,323.60 L183.50,323.60 L183.75,323.60 L184.00,323.60 L184.25,323.60 L184.50,323.60 L184.75,323.60 L185.00,323.60 L185.25,323.60 L185.50,323.60 L185.75,323.60 L186.00,323.60 L186.25,323.60 L186.50,323.60 L186.75,323.60 L187.00,323.60 L187.25,323.60 L187.50,323.60 L187.75,323.60 L188.00,323.60 L188.25,323.60 L188.50,323.60 L188.75,323.60 L189.00,323.60 L189.25,323.60 L189.50,323.60 L189.75,323.60 L190.00,323.60 L190.25,323.60 L190.50,323.60 L190.75,323.60 L191.00,323.60 L191.25,323.60 L191.50,323.60 L191.75,323.60 L192.00,323.60 L192.25,323.60 L192.50,323.60 L192.75,323.60 L193.00,323.60 L193.25,323.60 L193.50,323.60 L193.75,323.60 L194.00,323.60 L194.25,323.60 L194.50,323.60 L194.75,323.60 L195.00,323.60 L195.25,323.60 L195.50,323.60 L195.50,323.6 L97.50,323.6 Z" fill="#8c9fd4" stroke="none"/>
<path d="M97.50,323.60 L97.75,323.60 L98.00,323.60 L98.25,323.60 L98.50,323.60 L98.75,323.60 L99.00,323.60 L99.25,323.60 L99.50,323.60 L99.75,323.60 L100.00,323.60 L100.25,323.60 L100.50,323.60 L100.75,323.60 L101.00,323.60 L101.25,323.60 L101.50,323.60 L101.75,323.60 L102.00,323.60 L102.25,323.60 L102.50,323.60 L102.75,323.60 L103.00,323.60 L103.25,323.60 L103.50,323.60 L103.75,323.60 L104.00,323.60 L104.25,323.60 L104.50,323.60 L104.75,323.60 L105.00,323.60 L105.25,323.60 L105.50,323.60 L105.75,323.60 L106.00,323.60 L106.25,323.60 L106.50,323.60 L106.75,323.60 L107.00,323.60 L107.25,323.60 L107.50,323.60 L107.75,323.60 L108.00,323.60 L108.25,323.60 L108.50,323.60 L108.75,323.60 L109.00,323.60 L109.25,323.60 L109.50,323.60 L109.75,323.60 L110.00,323.60 L110.25,323.60 L110.50,323.60 L110.75,323.60 L111.00,323.60 L111.25,323.60 L111.50,323.60 L111.75,323.60 L112.00,323.60 L112.25,323.60 L112.50,323.60 L112.75,323.60 L113.00,323.60 L113.25,323.60 L113.50,323.60 L113.75,323.60 L114.00,323.60 L114.25,323.60 L114.50,323.60 L114.75,323.60 L115.00,323.60 L115.25,323.60 L115.50,323.60 L115.75,323.60 L116.00,323.60 L116.25,323.60 L116.50,323.60 L116.75,323.60 L117.00,323.60 L117.25,323.60 L117.50,323.60 L117.75,323.60 L118.00,323.60 L118.25,323.60 L118.50,323.60 L118.75,323.60 L119.00,323.60 L119.25,323.60 L119.50,323.60 L119.75,323.60 L120.00,323.60 L120.25,323.60 L120.50,323.60 L120.75,323.60 L121.00,323.60 L121.25,323.60 L121.50,323.60 L121.75,323.60 L122.00,323.60 L122.25,323.60 L122.50,323.60 L122.75,323.60 L123.00,323.60 L123.25,323.60 L123.50,323.60 L123.75,323.60 L124.00,323.60 L124.25,323.60 L124.50,323.60 L124.75,323.60 L125.00,323.60 L125.25,323.60 L125.50,323.60 L125.75,323.60 L126.00,323.60 L126.25,323.60 L126.50,323.60 L126.75,323.60 L127.00,323.60 L127.25,323.60 L127.50,323.60 L127.75,323.60 L128.00,323.60 L128.25,323.60 L128.50,323.60 L128.75,323.60 L129.00,323.60 L129.25,323.60 L129.50,323.60 L129.75,323.60 L130.00,323.60 L130.25,323.60 L130.50,323.60 L130.75,323.60 L131.00,323.60 L131.25,323.60 L131.50,323.60 L131.75,323.60 L132.00,323.60 L132.25,323.60 L132.50,323.60 L132.75,323.60 L133.00,323.60 L133.25,323.60 L133.50,323.60 L133.75,323.60 L134.00,323.60 L134.25,323.60 L134.50,323.60 L134.75,323.60 L135.00,323.60 L135.25,323.60 L135.50,323.60 L135.75,323.60 L136.00,323.60 L136.25,323.60 L136.50,323.60 L136.75,323.60 L137.00,323.60 L137.25,323.60 L137.50,323.60 L137.75,323.60 L138.00,323.60 L138.25,323.60 L138.50,323.60 L138.75,323.60 L139.00,323.60 L139.25,323.60 L139.50,323.60 L139.75,323.60 L140.00,323.60 L140.25,323.60 L140.50,323.60 L140.75,323.60 L141.00,323.59 L141.25,323.59 L141.50,323.59 L141.75,323.58 L142.00,323.58 L142.25,323.56 L142.50,323.55 L142.75,323.52 L143.00,323.48 L143.25,323.43 L143.50,323.35 L143.75,323.23 L144.00,323.07 L144.25,322.83 L144.50,322.51 L144.75,322.06 L145.00,321.47 L145.25,320.68 L145.50,319.66 L145.75,318.36 L146.00,316.73 L146.25,314.75 L146.50,312.37 L146.75,309.58 L147.00,306.38 L147.25,302.80 L147.50,298.88 L147.75,294.72 L148.00,290.42 L148.25,286.10 L148.50,281.94 L148.75,278.08 L149.00,274.69 L149.25,271.93 L149.50,269.91 L149.75,268.74 L150.00,268.44 L150.25,268.69 L150.50,269.44 L150.75,270.64 L151.00,272.27 L151.25,274.28 L151.50,276.63 L151.75,279.24 L152.00,282.07 L152.25,285.04 L152.50,288.08 L152.75,291.13 L153.00,294.13 L153.25,297.05 L153.50,299.84 L153.75,302.46 L154.00,304.91 L154.25,307.16 L154.50,309.20 L154.75,311.03 L155.00,312.66 L155.25,314.10 L155.50,315.36 L155.75,316.44 L156.00,317.38 L156.25,318.18 L156.50,318.86 L156.75,319.44 L157.00,319.92 L157.25,320.34 L157.50,320.69 L157.75,320.99 L158.00,321.25 L158.25,321.47 L158.50,321.66 L158.75,321.83 L159.00,321.99 L159.25,322.12 L159.50,322.24 L159.75,322.36 L160.00,322.46 L160.25,322.56 L160.50,322.64 L160.75,322.73 L161.00,322.80 L161.25,322.87 L161.50,322.94 L161.75,323.00 L162.00,323.06 L162.25,323.11 L162.50,323.16 L162.75,323.20 L163.00,323.24 L163.25,323.28 L163.50,323.32 L163.75,323.35 L164.00,323.38 L164.25,323.40 L164.50,323.42 L164.75,323.45 L165.00,323.46 L165.25,323.48 L165.50,323.50 L165.75,323.51 L166.00,323.52 L166.25,323.53 L166.50,323.54 L166.75,323.55 L167.00,323.56 L167.25,323.56 L167.50,323.57 L167.75,323.57 L168.00,323.58 L168.25,323.58 L168.50,323.58 L168.75,323.59 L169.00,323.59 L169.25,323.59 L169.50,323.59 L169.75,323.59 L170.00,323.59 L170.25,323.59 L170.50,323.60 L170.75,323.60 L171.00,323.60 L171.25,323.60 L171.50,323.60 L171.75,323.60 L172.00,323.60 L172.25,323.60 L172.50,323.60 L172.75,323.60 L173.00,323.60 L173.25,323.60 L173.50,323.60 L173.75,323.60 L174.00,323.60 L174.25,323.60 L174.50,323.60 L174.75,323.60 L175.00,323.60 L175.25,323.60 L175.50,323.60 L175.75,323.60 L176.00,323.60 L176.25,323.60 L176.50,323.60 L176.75,323.60 L177.00,323.60 L177.25,323.60 L177.50,323.60 L177.75,323.60 L178.00,323.60 L178.25,323.60 L178.50,323.60 L178.75,323.60 L179.00,323.60 L179.25,323.60 L179.50,323.60 L179.75,323.60 L180.00,323.60 L180.25,323.60 L180.50,323.60 L180.75,323.60 L181.00,323.60 L181.25,323.60 L181.50,323.60 L181.75,323.60 L182.00,323.60 L182.25,323.60 L182.50,323.60 L182.75,323.60 L183.00,323.60 L183.25,323.60 L183.50,323.60 L183.75,323.60 L184.00,323.60 L184.25,323.60 L184.50,323.60 L184.75,323.60 L185.00,323.60 L185.25,323.60 L185.50,323.60 L185.75,323.60 L186.00,323.60 L186.25,323.60 L186.50,323.60 L186.75,323.60 L187.00,323.60 L187.25,323.60 L187.50,323.60 L187.75,323.60 L188.00,323.60 L188.25,323.60 L188.50,323.60 L188.75,323.60 L189.00,323.60 L189.25,323.60 L189.50,323.60 L189.75,323.60 L190.00,323.60 L190.25,323.60 L190.50,323.60 L190.75,323.60 L191.00,323.60 L191.25,323.60 L191.50,323.60 L191.75,323.60 L192.00,323.60 L192.25,323.60 L192.50,323.60 L192.75,323.60 L193.00,323.60 L193.25,323.60 L193.50,323.60 L193.75,323.60 L194.00,323.60 L194.25,323.60 L194.50,323.60 L194.75,323.60 L195.00,323.60 L195.25,323.60 L195.50,323.60" fill="none" stroke="#3d72b8" stroke-width="1.0"/>
<path d="M97.50,293.30 L97.75,293.30 L98.00,293.30 L98.25,293.30 L98.50,293.30 L98.75,293.30 L99.00,293.30 L99.25,293.30 L99.50,293.30 L99.75,293.30 L100.00,293.30 L100.25,293.30 L100.50,293.30 L100.75,293.30 L101.00,293.30 L101.25,293.30 L101.50,293.30 L101.75,293.30 L102.00,293.30 L102.25,293.30 L102.50,293.30 L102.75,293.30 L103.00,293.30 L103.25,293.30 L103.50,293.30 L103.75,293.30 L104.00,293.30 L104.25,293.30 L104.50,293.30 L104.75,293.30 L105.00,293.30 L105.25,293.30 L105.50,293.30 L105.75,293.30 L106.00,293.30 L106.25,293.30 L106.50,293.30 L106.75,293.30 L107.00,293.30 L107.25,293.30 L107.50,293.30 L107.75,293.30 L108.00,293.30 L108.25,293.30 L108.50,293.30 L108.75,293.30 L109.00,293.30 L109.25,293.30 L109.50,293.30 L109.75,293.30 L110.00,293.30 L110.25,293.30 L110.50,293.30 L110.75,293.30 L111.00,293.30 L111.25,293.30 L111.50,293.30 L111.75,293.30 L112.00,293.30 L112.25,293.30 L112.50,293.30 L112.75,293.30 L113.00,293.30 L113.25,293.30 L113.50,293.30 L113.75,293.30 L114.00,293.30 L114.25,293.30 L114.50,293.30 L114.75,293.30 L115.00,293.30 L115.25,293.30 L115.50,293.30 L115.75,293.30 L116.00,293.30 L116.25,293.30 L116.50,293.30 L116.75,293.30 L117.00,293.30 L117.25,293.30 L117.50,293.30 L117.75,293.30 L118.00,293.30 L118.25,293.30 L118.50,293.30 L118.75,293.30 L119.00,293.30 L119.25,293.30 L119.50,293.30 L119.75,293.30 L120.00,293.30 L120.25,293.30 L120.50,293.30 L120.75,293.30 L121.00,293.30 L121.25,293.30 L121.50,293.30 L121.75,293.30 L122.00,293.30 L122.25,293.30 L122.50,293.30 L122.75,293.30 L123.00,293.30 L123.25,293.30 L123.50,293.30 L123.75,293.30 L124.00,293.30 L124.25,293.30 L124.50,293.30 L124.75,293.30 L125.00,293.30 L125.25,293.30 L125.50,293.30 L125.75,293.30 L126.00,293.30 L126.25,293.30 L126.50,293.30 L126.75,293.30 L127.00,293.30 L127.25,293.30 L127.50,293.30 L127.75,293.30 L128.00,293.30 L128.25,293.30 L128.50,293.30 L128.75,293.30 L129.00,293.30 L129.25,293.30 L129.50,293.30 L129.75,293.30 L130.00,293.30 L130.25,293.30 L130.50,293.30 L130.75,293.30 L131.00,293.30 L131.25,293.30 L131.50,293.30 L131.75,293.30 L132.00,293.30 L132.25,293.30 L132.50,293.30 L132.75,293.30 L133.00,293.30 L133.25,293.30 L133.50,293.30 L133.75,293.30 L134.00,293.30 L134.25,293.30 L134.50,293.30 L134.75,293.30 L135.00,293.30 L135.25,293.30 L135.50,293.30 L135.75,293.30 L136.00,293.30 L136.25,293.30 L136.50,293.30 L136.75,293.30 L137.00,293.30 L137.25,293.30 L137.50,293.30 L137.75,293.30 L138.00,293.30 L138.25,293.30 L138.50,293.30 L138.75,293.30 L139.00,293.30 L139.25,293.30 L139.50,293.30 L139.75,293.30 L140.00,293.30 L140.25,293.30 L140.50,293.30 L140.75,293.30 L141.00,293.30 L141.25,293.30 L141.50,293.30 L141.75,293.30 L142.00,293.30 L142.25,293.30 L142.50,293.30 L142.75,293.30 L143.00,293.30 L143.25,293.30 L143.50,293.30 L143.75,293.30 L144.00,293.30 L144.25,293.30 L144.50,293.30 L144.75,293.30 L145.00,293.30 L145.25,293.30 L145.50,293.30 L145.75,293.30 L146.00,293.30 L146.25,293.30 L146.50,293.30 L146.75,293.30 L147.00,293.30 L147.25,293.30 L147.50,293.30 L147.75,293.30 L148.00,293.30 L148.25,293.30 L148.50,293.30 L148.75,293.30 L149.00,293.30 L149.25,293.30 L149.50,293.30 L149.75,293.30 L150.00,293.30 L150.25,293.30 L150.50,293.30 L150.75,293.30 L151.00,293.30 L151.25,293.30 L151.50,293.30 L151.75,293.30 L152.00,293.30 L152.25,293.30 L152.50,293.30 L152.75,293.30 L153.00,293.30 L153.25,293.30 L153.50,293.30 L153.75,293.30 L154.00,293.30 L154.25,293.30 L154.50,293.30 L154.75,293.30 L155.00,293.30 L155.25,293.30 L155.50,293.30 L155.75,293.30 L156.00,293.30 L156.25,293.30 L156.50,293.30 L156.75,293.30 L157.00,293.30 L157.25,293.30 L157.50,293.30 L157.75,293.30 L158.00,293.30 L158.25,293.30 L158.50,293.30 L158.75,293.30 L159.00,293.30 L159.25,293.30 L159.50,293.30 L159.75,293.30 L160.00,293.30 L160.25,293.30 L160.50,293.30 L160.75,293.30 L161.00,293.30 L161.25,293.30 L161.50,293.30 L161.75,293.30 L162.00,293.30 L162.25,293.30 L162.50,293.30 L162.75,293.30 L163.00,293.30 L163.25,293.30 L163.50,293.30 L163.75,293.30 L164.00,293.30 L164.25,293.30 L164.50,293.30 L164.75,293.30 L165.00,293.30 L165.25,293.30 L165.50,293.30 L165.75,293.30 L166.00,293.30 L166.25,293.30 L166.50,293.30 L166.75,293.30 L167.00,293.30 L167.25,293.30 L167.50,293.30 L167.75,293.30 L168.00,293.30 L168.25,293.30 L168.50,293.30 L168.75,293.30 L169.00,293.30 L169.25,293.30 L169.50,293.30 L169.75,293.30 L170.00,293.30 L170.25,293.30 L170.50,293.30 L170.75,293.30 L171.00,293.30 L171.25,293.30 L171.50,293.30 L171.75,293.30 L172.00,293.30 L172.25,293.30 L172.50,293.30 L172.75,293.29 L173.00,293.29 L173.25,293.28 L173.50,293.27 L173.75,293.26 L174.00,293.24 L174.25,293.20 L174.50,293.16 L174.75,293.09 L175.00,292.99 L175.25,292.86 L175.50,292.67 L175.75,292.42 L176.00,292.09 L176.25,291.65 L176.50,291.09 L176.75,290.36 L177.00,289.45 L177.25,288.33 L177.50,286.95 L177.75,285.30 L178.00,283.35 L178.25,281.08 L178.50,278.49 L178.75,275.58 L179.00,272.36 L179.25,268.89 L179.50,265.20 L179.75,261.36 L180.00,257.47 L180.25,253.63 L180.50,249.93 L180.75,246.50 L181.00,243.44 L181.25,240.86 L181.50,238.86 L181.75,237.51 L182.00,236.86 L182.25,236.92 L182.50,237.65 L182.75,239.01 L183.00,240.96 L183.25,243.44 L183.50,246.35 L183.75,249.62 L184.00,253.13 L184.25,256.80 L184.50,260.52 L184.75,264.21 L185.00,267.78 L185.25,271.18 L185.50,274.35 L185.75,277.26 L186.00,279.88 L186.25,282.21 L186.50,284.24 L186.75,285.98 L187.00,287.46 L187.25,288.69 L187.50,289.71 L187.75,290.54 L188.00,291.20 L188.25,291.72 L188.50,292.12 L188.75,292.44 L189.00,292.67 L189.25,292.85 L189.50,292.98 L189.75,293.08 L190.00,293.15 L190.25,293.19 L190.50,293.23 L190.75,293.25 L191.00,293.27 L191.25,293.28 L191.50,293.29 L191.75,293.29 L192.00,293.29 L192.25,293.30 L192.50,293.30 L192.75,293.30 L193.00,293.30 L193.25,293.30 L193.50,293.30 L193.75,293.30 L194.00,293.30 L194.25,293.30 L194.50,293.30 L194.75,293.30 L195.00,293.30 L195.25,293.30 L195.50,293.30 L195.50,293.3 L97.50,293.3 Z" fill="#d58a80" stroke="none"/>
<path d="M97.50,293.30 L97.75,293.30 L98.00,293.30 L98.25,293.30 L98.50,293.30 L98.75,293.30 L99.00,293.30 L99.25,293.30 L99.50,293.30 L99.75,293.30 L100.00,293.30 L100.25,293.30 L100.50,293.30 L100.75,293.30 L101.00,293.30 L101.25,293.30 L101.50,293.30 L101.75,293.30 L102.00,293.30 L102.25,293.30 L102.50,293.30 L102.75,293.30 L103.00,293.30 L103.25,293.30 L103.50,293.30 L103.75,293.30 L104.00,293.30 L104.25,293.30 L104.50,293.30 L104.75,293.30 L105.00,293.30 L105.25,293.30 L105.50,293.30 L105.75,293.30 L106.00,293.30 L106.25,293.30 L106.50,293.30 L106.75,293.30 L107.00,293.30 L107.25,293.30 L107.50,293.30 L107.75,293.30 L108.00,293.30 L108.25,293.30 L108.50,293.30 L108.75,293.30 L109.00,293.30 L109.25,293.30 L109.50,293.30 L109.75,293.30 L110.00,293.30 L110.25,293.30 L110.50,293.30 L110.75,293.30 L111.00,293.30 L111.25,293.30 L111.50,293.30 L111.75,293.30 L112.00,293.30 L112.25,293.30 L112.50,293.30 L112.75,293.30 L113.00,293.30 L113.25,293.30 L113.50,293.30 L113.75,293.30 L114.00,293.30 L114.25,293.30 L114.50,293.30 L114.75,293.30 L115.00,293.30 L115.25,293.30 L115.50,293.30 L115.75,293.30 L116.00,293.30 L116.25,293.30 L116.50,293.30 L116.75,293.30 L117.00,293.30 L117.25,293.30 L117.50,293.30 L117.75,293.30 L118.00,293.30 L118.25,293.30 L118.50,293.30 L118.75,293.30 L119.00,293.30 L119.25,293.30 L119.50,293.30 L119.75,293.30 L120.00,293.30 L120.25,293.30 L120.50,293.30 L120.75,293.30 L121.00,293.30 L121.25,293.30 L121.50,293.30 L121.75,293.30 L122.00,293.30 L122.25,293.30 L122.50,293.30 L122.75,293.30 L123.00,293.30 L123.25,293.30 L123.50,293.30 L123.75,293.30 L124.00,293.30 L124.25,293.30 L124.50,293.30 L124.75,293.30 L125.00,293.30 L125.25,293.30 L125.50,293.30 L125.75,293.30 L126.00,293.30 L126.25,293.30 L126.50,293.30 L126.75,293.30 L127.00,293.30 L127.25,293.30 L127.50,293.30 L127.75,293.30 L128.00,293.30 L128.25,293.30 L128.50,293.30 L128.75,293.30 L129.00,293.30 L129.25,293.30 L129.50,293.30 L129.75,293.30 L130.00,293.30 L130.25,293.30 L130.50,293.30 L130.75,293.30 L131.00,293.30 L131.25,293.30 L131.50,293.30 L131.75,293.30 L132.00,293.30 L132.25,293.30 L132.50,293.30 L132.75,293.30 L133.00,293.30 L133.25,293.30 L133.50,293.30 L133.75,293.30 L134.00,293.30 L134.25,293.30 L134.50,293.30 L134.75,293.30 L135.00,293.30 L135.25,293.30 L135.50,293.30 L135.75,293.30 L136.00,293.30 L136.25,293.30 L136.50,293.30 L136.75,293.30 L137.00,293.30 L137.25,293.30 L137.50,293.30 L137.75,293.30 L138.00,293.30 L138.25,293.30 L138.50,293.30 L138.75,293.30 L139.00,293.30 L139.25,293.30 L139.50,293.30 L139.75,293.30 L140.00,293.30 L140.25,293.30 L140.50,293.30 L140.75,293.30 L141.00,293.30 L141.25,293.30 L141.50,293.30 L141.75,293.30 L142.00,293.30 L142.25,293.30 L142.50,293.30 L142.75,293.30 L143.00,293.30 L143.25,293.30 L143.50,293.30 L143.75,293.30 L144.00,293.30 L144.25,293.30 L144.50,293.30 L144.75,293.30 L145.00,293.30 L145.25,293.30 L145.50,293.30 L145.75,293.30 L146.00,293.30 L146.25,293.30 L146.50,293.30 L146.75,293.30 L147.00,293.30 L147.25,293.30 L147.50,293.30 L147.75,293.30 L148.00,293.30 L148.25,293.30 L148.50,293.30 L148.75,293.30 L149.00,293.30 L149.25,293.30 L149.50,293.30 L149.75,293.30 L150.00,293.30 L150.25,293.30 L150.50,293.30 L150.75,293.30 L151.00,293.30 L151.25,293.30 L151.50,293.30 L151.75,293.30 L152.00,293.30 L152.25,293.30 L152.50,293.30 L152.75,293.30 L153.00,293.30 L153.25,293.30 L153.50,293.30 L153.75,293.30 L154.00,293.30 L154.25,293.30 L154.50,293.30 L154.75,293.30 L155.00,293.30 L155.25,293.30 L155.50,293.30 L155.75,293.30 L156.00,293.30 L156.25,293.30 L156.50,293.30 L156.75,293.30 L157.00,293.30 L157.25,293.30 L157.50,293.30 L157.75,293.30 L158.00,293.30 L158.25,293.30 L158.50,293.30 L158.75,293.30 L159.00,293.30 L159.25,293.30 L159.50,293.30 L159.75,293.30 L160.00,293.30 L160.25,293.30 L160.50,293.30 L160.75,293.30 L161.00,293.30 L161.25,293.30 L161.50,293.30 L161.75,293.30 L162.00,293.30 L162.25,293.30 L162.50,293.30 L162.75,293.30 L163.00,293.30 L163.25,293.30 L163.50,293.30 L163.75,293.30 L164.00,293.30 L164.25,293.30 L164.50,293.30 L164.75,293.30 L165.00,293.30 L165.25,293.30 L165.50,293.30 L165.75,293.30 L166.00,293.30 L166.25,293.30 L166.50,293.30 L166.75,293.30 L167.00,293.30 L167.25,293.30 L167.50,293.30 L167.75,293.30 L168.00,293.30 L168.25,293.30 L168.50,293.30 L168.75,293.30 L169.00,293.30 L169.25,293.30 L169.50,293.30 L169.75,293.30 L170.00,293.30 L170.25,293.30 L170.50,293.30 L170.75,293.30 L171.00,293.30 L171.25,293.30 L171.50,293.30 L171.75,293.30 L172.00,293.30 L172.25,293.30 L172.50,293.30 L172.75,293.29 L173.00,293.29 L173.25,293.28 L173.50,293.27 L173.75,293.26 L174.00,293.24 L174.25,293.20 L174.50,293.16 L174.75,293.09 L175.00,292.99 L175.25,292.86 L175.50,292.67 L175.75,292.42 L176.00,292.09 L176.25,291.65 L176.50,291.09 L176.75,290.36 L177.00,289.45 L177.25,288.33 L177.50,286.95 L177.75,285.30 L178.00,283.35 L178.25,281.08 L178.50,278.49 L178.75,275.58 L179.00,272.36 L179.25,268.89 L179.50,265.20 L179.75,261.36 L180.00,257.47 L180.25,253.63 L180.50,249.93 L180.75,246.50 L181.00,243.44 L181.25,240.86 L181.50,238.86 L181.75,237.51 L182.00,236.86 L182.25,236.92 L182.50,237.65 L182.75,239.01 L183.00,240.96 L183.25,243.44 L183.50,246.35 L183.75,249.62 L184.00,253.13 L184.25,256.80 L184.50,260.52 L184.75,264.21 L185.00,267.78 L185.25,271.18 L185.50,274.35 L185.75,277.26 L186.00,279.88 L186.25,282.21 L186.50,284.24 L186.75,285.98 L187.00,287.46 L187.25,288.69 L187.50,289.71 L187.75,290.54 L188.00,291.20 L188.25,291.72 L188.50,292.12 L188.75,292.44 L189.00,292.67 L189.25,292.85 L189.50,292.98 L189.75,293.08 L190.00,293.15 L190.25,293.19 L190.50,293.23 L190.75,293.25 L191.00,293.27 L191.25,293.28 L191.50,293.29 L191.75,293.29 L192.00,293.29 L192.25,293.30 L192.50,293.30 L192.75,293.30 L193.00,293.30 L193.25,293.30 L193.50,293.30 L193.75,293.30 L194.00,293.30 L194.25,293.30 L194.50,293.30 L194.75,293.30 L195.00,293.30 L195.25,293.30 L195.50,293.30" fill="none" stroke="#b73a4a" stroke-width="1.0"/>
<rect x="97.5" y="232.5" width="98.0" height="121.0" fill="none" stroke="#505050" stroke-width="1"/>
<line x1="97.5" y1="353.0" x2="97.5" y2="356.6" stroke="#505050" stroke-width="1"/>
<line x1="101.65186374163719" y1="353.0" x2="101.65186374163719" y2="355.0" stroke="#505050" stroke-width="0.75"/>
<line x1="104.02205208852665" y1="353.0" x2="104.02205208852665" y2="355.0" stroke="#505050" stroke-width="0.75"/>
<line x1="105.70372748327436" y1="353.0" x2="105.70372748327436" y2="355.0" stroke="#505050" stroke-width="0.75"/>
<line x1="107.00813625836281" y1="353.0" x2="107.00813625836281" y2="355.0" stroke="#505050" stroke-width="0.75"/>
<line x1="108.07391583016384" y1="353.0" x2="108.07391583016384" y2="355.0" stroke="#505050" stroke-width="0.75"/>
<line x1="108.97501961859189" y1="353.0" x2="108.97501961859189" y2="355.0" stroke="#505050" stroke-width="0.75"/>
<line x1="109.75559122491156" y1="353.0" x2="109.75559122491156" y2="355.0" stroke="#505050" stroke-width="0.75"/>
<line x1="110.4441041770533" y1="353.0" x2="110.4441041770533" y2="355.0" stroke="#505050" stroke-width="0.75"/>
<line x1="111.5" y1="353.0" x2="111.5" y2="356.6" stroke="#505050" stroke-width="1"/>
<line x1="115.11186374163718" y1="353.0" x2="115.11186374163718" y2="355.0" stroke="#505050" stroke-width="0.75"/>
<line x1="117.48205208852664" y1="353.0" x2="117.48205208852664" y2="355.0" stroke="#505050" stroke-width="0.75"/>
<line x1="119.16372748327437" y1="353.0" x2="119.16372748327437" y2="355.0" stroke="#505050" stroke-width="0.75"/>
<line x1="120.4681362583628" y1="353.0" x2="120.4681362583628" y2="355.0" stroke="#505050" stroke-width="0.75"/>
<line x1="121.53391583016383" y1="353.0" x2="121.53391583016383" y2="355.0" stroke="#505050" stroke-width="0.75"/>
<line x1="122.4350196185919" y1="353.0" x2="122.4350196185919" y2="355.0" stroke="#505050" stroke-width="0.75"/>
<line x1="123.21559122491155" y1="353.0" x2="123.21559122491155" y2="355.0" stroke="#505050" stroke-width="0.75"/>
<line x1="123.90410417705331" y1="353.0" x2="123.90410417705331" y2="355.0" stroke="#505050" stroke-width="0.75"/>
<line x1="124.5" y1="353.0" x2="124.5" y2="356.6" stroke="#505050" stroke-width="1"/>
<line x1="128.57186374163717" y1="353.0" x2="128.57186374163717" y2="355.0" stroke="#505050" stroke-width="0.75"/>
<line x1="130.94205208852665" y1="353.0" x2="130.94205208852665" y2="355.0" stroke="#505050" stroke-width="0.75"/>
<line x1="132.62372748327437" y1="353.0" x2="132.62372748327437" y2="355.0" stroke="#505050" stroke-width="0.75"/>
<line x1="133.92813625836283" y1="353.0" x2="133.92813625836283" y2="355.0" stroke="#505050" stroke-width="0.75"/>
<line x1="134.99391583016384" y1="353.0" x2="134.99391583016384" y2="355.0" stroke="#505050" stroke-width="0.75"/>
<line x1="135.8950196185919" y1="353.0" x2="135.8950196185919" y2="355.0" stroke="#505050" stroke-width="0.75"/>
<line x1="136.67559122491156" y1="353.0" x2="136.67559122491156" y2="355.0" stroke="#505050" stroke-width="0.75"/>
<line x1="137.36410417705332" y1="353.0" x2="137.36410417705332" y2="355.0" stroke="#505050" stroke-width="0.75"/>
<line x1="137.5" y1="353.0" x2="137.5" y2="356.6" stroke="#505050" stroke-width="1"/>
<line x1="142.03186374163718" y1="353.0" x2="142.03186374163718" y2="355.0" stroke="#505050" stroke-width="0.75"/>
<line x1="144.40205208852666" y1="353.0" x2="144.40205208852666" y2="355.0" stroke="#505050" stroke-width="0.75"/>
<line x1="146.08372748327437" y1="353.0" x2="146.08372748327437" y2="355.0" stroke="#505050" stroke-width="0.75"/>
<line x1="147.3881362583628" y1="353.0" x2="147.3881362583628" y2="355.0" stroke="#505050" stroke-width="0.75"/>
<line x1="148.45391583016385" y1="353.0" x2="148.45391583016385" y2="355.0" stroke="#505050" stroke-width="0.75"/>
<line x1="149.35501961859188" y1="353.0" x2="149.35501961859188" y2="355.0" stroke="#505050" stroke-width="0.75"/>
<line x1="150.13559122491156" y1="353.0" x2="150.13559122491156" y2="355.0" stroke="#505050" stroke-width="0.75"/>
<line x1="150.8241041770533" y1="353.0" x2="150.8241041770533" y2="355.0" stroke="#505050" stroke-width="0.75"/>
<line x1="151.5" y1="353.0" x2="151.5" y2="356.6" stroke="#505050" stroke-width="1"/>
<line x1="155.4918637416372" y1="353.0" x2="155.4918637416372" y2="355.0" stroke="#505050" stroke-width="0.75"/>
<line x1="157.86205208852667" y1="353.0" x2="157.86205208852667" y2="355.0" stroke="#505050" stroke-width="0.75"/>
<line x1="159.54372748327438" y1="353.0" x2="159.54372748327438" y2="355.0" stroke="#505050" stroke-width="0.75"/>
<line x1="160.8481362583628" y1="353.0" x2="160.8481362583628" y2="355.0" stroke="#505050" stroke-width="0.75"/>
<line x1="161.91391583016383" y1="353.0" x2="161.91391583016383" y2="355.0" stroke="#505050" stroke-width="0.75"/>
<line x1="162.8150196185919" y1="353.0" x2="162.8150196185919" y2="355.0" stroke="#505050" stroke-width="0.75"/>
<line x1="163.59559122491157" y1="353.0" x2="163.59559122491157" y2="355.0" stroke="#505050" stroke-width="0.75"/>
<line x1="164.28410417705334" y1="353.0" x2="164.28410417705334" y2="355.0" stroke="#505050" stroke-width="0.75"/>
<line x1="164.5" y1="353.0" x2="164.5" y2="356.6" stroke="#505050" stroke-width="1"/>
<line x1="168.95186374163717" y1="353.0" x2="168.95186374163717" y2="355.0" stroke="#505050" stroke-width="0.75"/>
<line x1="171.32205208852668" y1="353.0" x2="171.32205208852668" y2="355.0" stroke="#505050" stroke-width="0.75"/>
<line x1="173.00372748327436" y1="353.0" x2="173.00372748327436" y2="355.0" stroke="#505050" stroke-width="0.75"/>
<line x1="174.30813625836282" y1="353.0" x2="174.30813625836282" y2="355.0" stroke="#505050" stroke-width="0.75"/>
<line x1="175.37391583016387" y1="353.0" x2="175.37391583016387" y2="355.0" stroke="#505050" stroke-width="0.75"/>
<line x1="176.2750196185919" y1="353.0" x2="176.2750196185919" y2="355.0" stroke="#505050" stroke-width="0.75"/>
<line x1="177.05559122491155" y1="353.0" x2="177.05559122491155" y2="355.0" stroke="#505050" stroke-width="0.75"/>
<line x1="177.74410417705332" y1="353.0" x2="177.74410417705332" y2="355.0" stroke="#505050" stroke-width="0.75"/>
<line x1="178.5" y1="353.0" x2="178.5" y2="356.6" stroke="#505050" stroke-width="1"/>
<line x1="182.4118637416372" y1="353.0" x2="182.4118637416372" y2="355.0" stroke="#505050" stroke-width="0.75"/>
<line x1="184.78205208852665" y1="353.0" x2="184.78205208852665" y2="355.0" stroke="#505050" stroke-width="0.75"/>
<line x1="186.46372748327437" y1="353.0" x2="186.46372748327437" y2="355.0" stroke="#505050" stroke-width="0.75"/>
<line x1="187.7681362583628" y1="353.0" x2="187.7681362583628" y2="355.0" stroke="#505050" stroke-width="0.75"/>
<line x1="188.83391583016385" y1="353.0" x2="188.83391583016385" y2="355.0" stroke="#505050" stroke-width="0.75"/>
<line x1="189.73501961859188" y1="353.0" x2="189.73501961859188" y2="355.0" stroke="#505050" stroke-width="0.75"/>
<line x1="190.51559122491156" y1="353.0" x2="190.51559122491156" y2="355.0" stroke="#505050" stroke-width="0.75"/>
<line x1="191.20410417705332" y1="353.0" x2="191.20410417705332" y2="355.0" stroke="#505050" stroke-width="0.75"/>
<line x1="191.5" y1="353.0" x2="191.5" y2="356.6" stroke="#505050" stroke-width="1"/>
<text x="91.5" y="365.7" font-size="9.6" fill="#231f20">10<tspan font-size="4.4" dx="-0.2" dy="-4.0">0</tspan></text>
<text x="118.42" y="365.7" font-size="9.6" fill="#231f20">10<tspan font-size="4.4" dx="-0.2" dy="-4.0">2</tspan></text>
<text x="145.34" y="365.7" font-size="9.6" fill="#231f20">10<tspan font-size="4.4" dx="-0.2" dy="-4.0">4</tspan></text>
<text x="172.26000000000002" y="365.7" font-size="9.6" fill="#231f20">10<tspan font-size="4.4" dx="-0.2" dy="-4.0">6</tspan></text>
<text x="147.6" y="377.5" font-size="9.6" text-anchor="middle" font-weight="normal" font-style="normal" fill="#231f20" >AF647</text>
<text x="93" y="285.5" font-size="9.6" text-anchor="end" font-weight="normal" font-style="normal" fill="#231f20" >tetra-GRAB-Sia3</text>
<text x="93" y="315.0" font-size="9.6" text-anchor="end" font-weight="normal" font-style="normal" fill="#231f20" >GRAB-Sia3</text>
<text x="93" y="345.5" font-size="9.6" text-anchor="end" font-weight="normal" font-style="normal" fill="#231f20" >Vehicle</text>
<line x1="259.5" y1="238.39999999999998" x2="259.5" y2="357.2" stroke="#6a6a6a" stroke-width="1"/>
<line x1="254.5" y1="357.5" x2="259.0" y2="357.5" stroke="#6a6a6a" stroke-width="1"/>
<text x="252.0" y="359.8" font-size="9.6" text-anchor="end" font-weight="normal" font-style="normal" fill="#231f20" >0</text>
<line x1="254.5" y1="327.5" x2="259.0" y2="327.5" stroke="#6a6a6a" stroke-width="1"/>
<text x="252.0" y="330.1" font-size="9.6" text-anchor="end" font-weight="normal" font-style="normal" fill="#231f20" >5</text>
<line x1="254.5" y1="297.5" x2="259.0" y2="297.5" stroke="#6a6a6a" stroke-width="1"/>
<text x="252.0" y="300.4" font-size="9.6" text-anchor="end" font-weight="normal" font-style="normal" fill="#231f20" >10</text>
<line x1="254.5" y1="268.5" x2="259.0" y2="268.5" stroke="#6a6a6a" stroke-width="1"/>
<text x="252.0" y="270.7" font-size="9.6" text-anchor="end" font-weight="normal" font-style="normal" fill="#231f20" >15</text>
<line x1="254.5" y1="238.5" x2="259.0" y2="238.5" stroke="#6a6a6a" stroke-width="1"/>
<text x="252.0" y="240.99999999999997" font-size="9.6" text-anchor="end" font-weight="normal" font-style="normal" fill="#231f20" >20</text>
<line x1="259.0" y1="357.5" x2="324.5" y2="357.5" stroke="#6a6a6a" stroke-width="1"/>
<line x1="271.5" y1="357.2" x2="271.5" y2="361.7" stroke="#6a6a6a" stroke-width="1"/>
<line x1="291.5" y1="357.2" x2="291.5" y2="361.7" stroke="#6a6a6a" stroke-width="1"/>
<line x1="311.5" y1="357.2" x2="311.5" y2="361.7" stroke="#6a6a6a" stroke-width="1"/>
<path d="M265.6,357.2 L265.6,251.5 L278.5,251.5 L278.5,357.2" fill="none" stroke="#b02a3e" stroke-width="1"/>
<line x1="267.5" y1="251.5" x2="276.3" y2="251.5" stroke="#b02a3e" stroke-width="1"/>
<circle cx="267.5" cy="251.4" r="1.6" fill="#fff" stroke="#b02a3e" stroke-width="0.9"/>
<circle cx="271.9" cy="251.4" r="1.6" fill="#fff" stroke="#b02a3e" stroke-width="0.9"/>
<circle cx="276.3" cy="252.3" r="1.6" fill="#fff" stroke="#b02a3e" stroke-width="0.9"/>
<circle cx="287.7" cy="356.5" r="1.6" fill="#fff" stroke="#3a5bb0" stroke-width="0.9"/>
<circle cx="291.5" cy="356.5" r="1.6" fill="#fff" stroke="#3a5bb0" stroke-width="0.9"/>
<circle cx="295.8" cy="356.5" r="1.6" fill="#fff" stroke="#3a5bb0" stroke-width="0.9"/>
<circle cx="306.7" cy="356.9" r="1.7" fill="#8a8a8a" stroke="#666" stroke-width="0.7"/>
<circle cx="311.5" cy="356.9" r="1.7" fill="#8a8a8a" stroke="#666" stroke-width="0.7"/>
<circle cx="315.7" cy="356.9" r="1.7" fill="#8a8a8a" stroke="#666" stroke-width="0.7"/>
<text x="225.2" y="293.7" font-size="9.8" text-anchor="middle" fill="#231f20" transform="rotate(-90 225.2 293.7)" dy="3.5">AF647 MFI (a.u.)</text>
<text x="266.2" y="229.1" font-size="9.6" text-anchor="start" fill="#231f20"><tspan font-style="italic">P</tspan> &lt; 0.0001</text>
<path d="M272.5,239.0 L272.5,233.5 L303.5,233.5 L303.5,239.5 M292.6,239.5 L313.1,239.5" fill="none" stroke="#7a6d6e" stroke-width="1"/>
<text x="276.7" y="370.2" font-size="9.9" text-anchor="end" fill="#231f20" transform="rotate(-45 276.7 370.2)">tetra-GRAB-Sia3</text>
<text x="295.8" y="370.2" font-size="9.9" text-anchor="end" fill="#231f20" transform="rotate(-45 295.8 370.2)">GRAB-Sia3</text>
<text x="316.5" y="370.2" font-size="9.9" text-anchor="end" fill="#231f20" transform="rotate(-45 316.5 370.2)">Vehicle</text>
<text x="454.3" y="10.2" font-size="9.6" text-anchor="middle" font-weight="normal" font-style="normal" fill="#231f20" >tetra-GRAB-Sia-AF647</text>
<line x1="413.5" y1="43.400000000000006" x2="413.5" y2="150.5" stroke="#6a6a6a" stroke-width="1"/>
<line x1="408.7" y1="150.5" x2="413.5" y2="150.5" stroke="#6a6a6a" stroke-width="1"/>
<text x="406.2" y="153.6" font-size="9.6" text-anchor="end" font-weight="normal" font-style="normal" fill="#231f20" >0</text>
<line x1="408.7" y1="114.5" x2="413.5" y2="114.5" stroke="#6a6a6a" stroke-width="1"/>
<text x="406.2" y="117.9" font-size="9.6" text-anchor="end" font-weight="normal" font-style="normal" fill="#231f20" >5</text>
<line x1="408.7" y1="79.5" x2="413.5" y2="79.5" stroke="#6a6a6a" stroke-width="1"/>
<text x="406.2" y="82.2" font-size="9.6" text-anchor="end" font-weight="normal" font-style="normal" fill="#231f20" >10</text>
<line x1="408.7" y1="43.5" x2="413.5" y2="43.5" stroke="#6a6a6a" stroke-width="1"/>
<text x="406.2" y="46.50000000000001" font-size="9.6" text-anchor="end" font-weight="normal" font-style="normal" fill="#231f20" >15</text>
<line x1="413.5" y1="150.5" x2="513" y2="150.5" stroke="#6a6a6a" stroke-width="1"/>
<line x1="425.5" y1="150.5" x2="425.5" y2="154.3" stroke="#6a6a6a" stroke-width="1"/>
<line x1="444.5" y1="150.5" x2="444.5" y2="154.3" stroke="#6a6a6a" stroke-width="1"/>
<line x1="463.5" y1="150.5" x2="463.5" y2="154.3" stroke="#6a6a6a" stroke-width="1"/>
<line x1="481.5" y1="150.5" x2="481.5" y2="154.3" stroke="#6a6a6a" stroke-width="1"/>
<line x1="500.5" y1="150.5" x2="500.5" y2="154.3" stroke="#6a6a6a" stroke-width="1"/>
<path d="M438.90,150.5 L438.90,69.5 L450.70,69.5 L450.70,150.5" fill="none" stroke="#f07482" stroke-width="1"/>
<text x="384.35" y="96.5" font-size="9.8" text-anchor="middle" fill="#231f20" transform="rotate(-90 384.35 96.5)" dy="3.5">AF647 MFI (a.u.)</text>
<text x="413.6" y="169" font-size="9.6" text-anchor="end" fill="#231f20"><tspan font-style="italic">Sp</tspan>NanA</text>
<text x="413.6" y="183.8" font-size="9.6" text-anchor="end" font-weight="normal" font-style="normal" fill="#231f20" >tetra-GRAB</text>
<text x="425.8" y="169" font-size="9.6" text-anchor="middle" font-weight="normal" font-style="normal" fill="#231f20" >−</text>
<text x="425.8" y="183.8" font-size="9.6" text-anchor="middle" font-weight="normal" font-style="normal" fill="#231f20" >−</text>
<text x="444.3" y="169" font-size="9.6" text-anchor="middle" font-weight="normal" font-style="normal" fill="#231f20" >−</text>
<text x="444.3" y="183.8" font-size="9.6" text-anchor="middle" font-weight="normal" font-style="normal" fill="#231f20" >+</text>
<text x="463.3" y="169" font-size="9.6" text-anchor="middle" font-weight="normal" font-style="normal" fill="#231f20" >+</text>
<text x="463.3" y="183.8" font-size="9.6" text-anchor="middle" font-weight="normal" font-style="normal" fill="#231f20" >+</text>
<text x="481.5" y="169" font-size="9.6" text-anchor="middle" font-weight="normal" font-style="normal" fill="#231f20" >−</text>
<text x="481.5" y="183.8" font-size="9.6" text-anchor="middle" font-weight="normal" font-style="normal" fill="#231f20" >−</text>
<text x="500.1" y="169" font-size="9.6" text-anchor="middle" font-weight="normal" font-style="normal" fill="#231f20" >−</text>
<text x="500.1" y="183.8" font-size="9.6" text-anchor="middle" font-weight="normal" font-style="normal" fill="#231f20" >+</text>
<text x="408.8" y="25.3" font-size="9.6" text-anchor="start" fill="#231f20"><tspan font-style="italic">P</tspan> &lt; 0.0001</text>
<line x1="422.4" y1="30.5" x2="445.8" y2="30.5" stroke="#7a6d6e" stroke-width="1"/>
<text x="440.6" y="42.8" font-size="9.6" text-anchor="start" fill="#231f20"><tspan font-style="italic">P</tspan> &lt; 0.0001</text>
<path d="M444.5,55.0 L444.5,46.5 L483.5,46.5 L483.5,54.5 M463.5,54.5 L502.9,54.5" fill="none" stroke="#7a6d6e" stroke-width="1"/>
<line x1="421" y1="191.5" x2="467.7" y2="191.5" stroke="#7a6d6e" stroke-width="1"/>
<line x1="476.2" y1="191.5" x2="506.8" y2="191.5" stroke="#7a6d6e" stroke-width="1"/>
<text x="444.5" y="205.6" font-size="9.6" text-anchor="middle" font-weight="normal" font-style="normal" fill="#231f20" >WT</text>
<text x="475.4" y="205.8" font-size="9.6" fill="#231f20"><tspan font-style="italic">CMAS</tspan><tspan font-size="5.5" dy="-3.8">−/−</tspan></text>
<path d="M444.6,62.1 L444.6,75.7 M441.8,62.1 L447.5,62.1" stroke="#e8404e" stroke-width="1" fill="none"/>
<circle cx="441.0" cy="65.0" r="2.0" fill="#e8404e"/>
<circle cx="448.2" cy="65.3" r="2.0" fill="#e8404e"/>
<circle cx="444.6" cy="75.5" r="2.0" fill="#e8404e"/>
<circle cx="422.0" cy="150.6" r="2.1" fill="#3d7cc9"/>
<circle cx="426.0" cy="150.6" r="2.1" fill="#3d7cc9"/>
<circle cx="429.9" cy="150.6" r="2.1" fill="#3d7cc9"/>
<rect x="457.3" y="147.3" width="11.7" height="3.2" fill="#ea737b"/>
<circle cx="459.0" cy="147.9" r="2.1" fill="#ea737b"/>
<circle cx="463.2" cy="147.9" r="2.1" fill="#ea737b"/>
<circle cx="467.2" cy="147.9" r="2.1" fill="#ea737b"/>
<circle cx="477.4" cy="150.5" r="2.1" fill="#62a0e0"/>
<circle cx="481.5" cy="150.5" r="2.1" fill="#62a0e0"/>
<circle cx="485.6" cy="150.5" r="2.1" fill="#62a0e0"/>
<circle cx="496.4" cy="150.5" r="2.0" fill="#ec8088"/>
<circle cx="500.4" cy="150.5" r="2.0" fill="#ec8088"/>
<circle cx="504.2" cy="150.5" r="2.0" fill="#ec8088"/>
<line x1="413.5" y1="150.5" x2="513" y2="150.5" stroke="#6a6a6a" stroke-width="1" opacity="0.55"/>
<text x="621.2" y="10.2" font-size="9.6" text-anchor="middle" font-weight="normal" font-style="normal" fill="#231f20" >tetra-GRAB-Sia3-AF647</text>
<line x1="581.5" y1="40.2" x2="581.5" y2="151.5" stroke="#6a6a6a" stroke-width="1"/>
<line x1="576.0" y1="151.5" x2="581.5" y2="151.5" stroke="#6a6a6a" stroke-width="1"/>
<text x="573.5" y="151.5" font-size="9.6" text-anchor="end" font-weight="normal" font-style="normal" fill="#231f20" >0</text>
<line x1="576.0" y1="114.5" x2="581.5" y2="114.5" stroke="#6a6a6a" stroke-width="1"/>
<text x="573.5" y="115.85" font-size="9.6" text-anchor="end" font-weight="normal" font-style="normal" fill="#231f20" >5</text>
<line x1="576.0" y1="77.5" x2="581.5" y2="77.5" stroke="#6a6a6a" stroke-width="1"/>
<text x="573.5" y="80.2" font-size="9.6" text-anchor="end" font-weight="normal" font-style="normal" fill="#231f20" >10</text>
<line x1="576.0" y1="40.5" x2="581.5" y2="40.5" stroke="#6a6a6a" stroke-width="1"/>
<text x="573.5" y="44.550000000000004" font-size="9.6" text-anchor="end" font-weight="normal" font-style="normal" fill="#231f20" >15</text>
<line x1="581.5" y1="151.5" x2="684.7" y2="151.5" stroke="#6a6a6a" stroke-width="1"/>
<line x1="594.5" y1="151.5" x2="594.5" y2="155.3" stroke="#6a6a6a" stroke-width="1"/>
<line x1="613.5" y1="151.5" x2="613.5" y2="155.3" stroke="#6a6a6a" stroke-width="1"/>
<line x1="632.5" y1="151.5" x2="632.5" y2="155.3" stroke="#6a6a6a" stroke-width="1"/>
<line x1="651.5" y1="151.5" x2="651.5" y2="155.3" stroke="#6a6a6a" stroke-width="1"/>
<line x1="671.5" y1="151.5" x2="671.5" y2="155.3" stroke="#6a6a6a" stroke-width="1"/>
<path d="M607.40,151.5 L607.40,65.5 L619.20,65.5 L619.20,151.5" fill="none" stroke="#f07482" stroke-width="1"/>
<text x="551.1" y="97.0" font-size="9.8" text-anchor="middle" fill="#231f20" transform="rotate(-90 551.1 97.0)" dy="3.5">AF647 MFI (a.u.)</text>
<text x="580.4" y="169" font-size="9.6" text-anchor="end" fill="#231f20"><tspan font-style="italic">Sp</tspan>NanA</text>
<text x="580.4" y="183.8" font-size="9.6" text-anchor="end" font-weight="normal" font-style="normal" fill="#231f20" >tetra-GRAB</text>
<text x="594.4" y="169" font-size="9.6" text-anchor="middle" font-weight="normal" font-style="normal" fill="#231f20" >−</text>
<text x="594.4" y="183.8" font-size="9.6" text-anchor="middle" font-weight="normal" font-style="normal" fill="#231f20" >−</text>
<text x="613.4" y="169" font-size="9.6" text-anchor="middle" font-weight="normal" font-style="normal" fill="#231f20" >−</text>
<text x="613.4" y="183.8" font-size="9.6" text-anchor="middle" font-weight="normal" font-style="normal" fill="#231f20" >+</text>
<text x="632.4" y="169" font-size="9.6" text-anchor="middle" font-weight="normal" font-style="normal" fill="#231f20" >+</text>
<text x="632.4" y="183.8" font-size="9.6" text-anchor="middle" font-weight="normal" font-style="normal" fill="#231f20" >+</text>
<text x="651.8" y="169" font-size="9.6" text-anchor="middle" font-weight="normal" font-style="normal" fill="#231f20" >−</text>
<text x="651.8" y="183.8" font-size="9.6" text-anchor="middle" font-weight="normal" font-style="normal" fill="#231f20" >−</text>
<text x="671.2" y="169" font-size="9.6" text-anchor="middle" font-weight="normal" font-style="normal" fill="#231f20" >−</text>
<text x="671.2" y="183.8" font-size="9.6" text-anchor="middle" font-weight="normal" font-style="normal" fill="#231f20" >+</text>
<text x="578.7" y="25.3" font-size="9.6" text-anchor="start" fill="#231f20"><tspan font-style="italic">P</tspan> &lt; 0.0001</text>
<line x1="591.0" y1="30.5" x2="614.0" y2="30.5" stroke="#7a6d6e" stroke-width="1"/>
<text x="608.8" y="41.4" font-size="9.6" text-anchor="start" fill="#231f20"><tspan font-style="italic">P</tspan> &lt; 0.0001</text>
<path d="M613.5,53.0 L613.5,44.5 L651.5,44.5 L651.5,53.5 M632.8,53.5 L671.4,53.5" fill="none" stroke="#7a6d6e" stroke-width="1"/>
<line x1="589.8" y1="191.5" x2="636.8" y2="191.5" stroke="#7a6d6e" stroke-width="1"/>
<line x1="646.0" y1="191.5" x2="676.7" y2="191.5" stroke="#7a6d6e" stroke-width="1"/>
<text x="613.5" y="205.4" font-size="9.6" text-anchor="middle" font-weight="normal" font-style="normal" fill="#231f20" >WT</text>
<text x="645.6" y="205.4" font-size="9.6" fill="#231f20"><tspan font-style="italic">CMAS</tspan><tspan font-size="5.5" dy="-3.8">−/−</tspan></text>
<path d="M613.3,60.5 L613.3,68.0 M610.5,68.0 L616.0,68.0" stroke="#e8404e" stroke-width="1" fill="none"/>
<circle cx="609.8" cy="63.4" r="2.0" fill="#e8404e"/>
<circle cx="613.7" cy="62.0" r="2.0" fill="#e8404e"/>
<circle cx="616.5" cy="68.4" r="2.0" fill="#e8404e"/>
<circle cx="590.3" cy="151.4" r="2.1" fill="#3d7cc9"/>
<circle cx="594.4" cy="151.4" r="2.1" fill="#3d7cc9"/>
<circle cx="598.5" cy="151.4" r="2.1" fill="#3d7cc9"/>
<rect x="627.6" y="148.0" width="11.0" height="3.4" fill="#ea737b"/>
<circle cx="629.6" cy="148.5" r="2.0" fill="#ea737b"/>
<circle cx="633.4" cy="148.5" r="2.0" fill="#ea737b"/>
<circle cx="636.9" cy="148.5" r="2.0" fill="#ea737b"/>
<circle cx="647.7" cy="151.5" r="2.1" fill="#62a0e0"/>
<circle cx="651.7" cy="151.5" r="2.1" fill="#62a0e0"/>
<circle cx="655.7" cy="151.5" r="2.1" fill="#62a0e0"/>
<circle cx="667.2" cy="151.4" r="2.0" fill="#ec8088"/>
<circle cx="671.2" cy="151.4" r="2.0" fill="#ec8088"/>
<circle cx="675.2" cy="151.4" r="2.0" fill="#ec8088"/>
<line x1="581.5" y1="151.5" x2="684.7" y2="151.5" stroke="#6a6a6a" stroke-width="1" opacity="0.55"/>
<line x1="479.5" y1="255.0" x2="479.5" y2="354.5" stroke="#6d6262" stroke-width="1"/>
<line x1="474.0" y1="354.5" x2="479.5" y2="354.5" stroke="#6d6262" stroke-width="1"/>
<text x="471.5" y="357.6" font-size="9.6" text-anchor="end" font-weight="normal" font-style="normal" fill="#231f20" >0</text>
<line x1="474.0" y1="334.5" x2="479.5" y2="334.5" stroke="#6d6262" stroke-width="1"/>
<text x="471.5" y="337.70000000000005" font-size="9.6" text-anchor="end" font-weight="normal" font-style="normal" fill="#231f20" >5</text>
<line x1="474.0" y1="314.5" x2="479.5" y2="314.5" stroke="#6d6262" stroke-width="1"/>
<text x="471.5" y="317.8" font-size="9.6" text-anchor="end" font-weight="normal" font-style="normal" fill="#231f20" >10</text>
<line x1="474.0" y1="294.5" x2="479.5" y2="294.5" stroke="#6d6262" stroke-width="1"/>
<text x="471.5" y="297.90000000000003" font-size="9.6" text-anchor="end" font-weight="normal" font-style="normal" fill="#231f20" >15</text>
<line x1="474.0" y1="274.5" x2="479.5" y2="274.5" stroke="#6d6262" stroke-width="1"/>
<text x="471.5" y="278.0" font-size="9.6" text-anchor="end" font-weight="normal" font-style="normal" fill="#231f20" >20</text>
<line x1="474.0" y1="255.5" x2="479.5" y2="255.5" stroke="#6d6262" stroke-width="1"/>
<text x="471.5" y="258.1" font-size="9.6" text-anchor="end" font-weight="normal" font-style="normal" fill="#231f20" >25</text>
<line x1="494.5" y1="354.5" x2="494.5" y2="358.7" stroke="#6d6262" stroke-width="1"/>
<line x1="516.5" y1="354.5" x2="516.5" y2="358.7" stroke="#6d6262" stroke-width="1"/>
<line x1="539.5" y1="354.5" x2="539.5" y2="358.7" stroke="#6d6262" stroke-width="1"/>
<path d="M509.90,354.5 L509.90,277.5 L523.50,277.5 L523.50,354.5" fill="none" stroke="#f07884" stroke-width="1"/>
<path d="M532.50,354.5 L532.50,281.5 L546.10,281.5 L546.10,354.5" fill="none" stroke="#f4a660" stroke-width="1"/>
<line x1="479.5" y1="354.5" x2="554.8" y2="354.5" stroke="#6d6262" stroke-width="1"/>
<circle cx="489.1" cy="354.5" r="1.8" fill="#a8acb4"/>
<circle cx="494.2" cy="354.5" r="1.8" fill="#a8acb4"/>
<circle cx="499.1" cy="354.5" r="1.8" fill="#a8acb4"/>
<path d="M516.5,274.5 L516.5,280.5 M512.9,274.5 L520.4,274.5 M513.2,280.5 L518.1,280.5" stroke="#e8404e" stroke-width="0.9" fill="none"/>
<circle cx="512.6" cy="275.9" r="2.0" fill="#e8404e"/>
<circle cx="517.2" cy="275.2" r="2.0" fill="#e8404e"/>
<circle cx="520.4" cy="280.2" r="2.0" fill="#e8404e"/>
<path d="M539.5,277.5 L539.5,282.5 M535.5,277.5 L543.0,277.5 M536.0,282.5 L543.0,282.5" stroke="#f0903a" stroke-width="0.9" fill="none"/>
<circle cx="539.2" cy="277.5" r="2.0" fill="#f0903a"/>
<circle cx="535.2" cy="280.8" r="2.0" fill="#f0903a"/>
<circle cx="542.8" cy="283.4" r="2.0" fill="#f0903a"/>
<text x="449.1" y="302.5" font-size="9.8" text-anchor="middle" fill="#231f20" transform="rotate(-90 449.1 302.5)" dy="3.5">AF647 MFI (a.u.)</text>
<text x="488" y="229.0" font-size="9.6" text-anchor="start" fill="#231f20"><tspan font-style="italic">P</tspan> &lt; 0.0001</text>
<path d="M494.5,239.4 L494.5,233.5 L527.5,233.5 L527.5,239.5 M515.6,239.5 L538.8,239.5" fill="none" stroke="#7a6d6e" stroke-width="1"/>
<text x="504.4" y="251.4" font-size="9.6" font-style="italic" fill="#231f20">P</text>
<text x="514.2" y="251.4" font-size="9.6" fill="#231f20">=</text>
<text x="522.5" y="251.4" font-size="9.6" fill="#231f20" letter-spacing="0.43">0.2139</text>
<line x1="516.5" y1="255.5" x2="538.8" y2="255.5" stroke="#7a6d6e" stroke-width="1"/>
<text x="474.4" y="371.6" font-size="9.6" text-anchor="end" font-weight="normal" font-style="normal" fill="#231f20" >tetra-GRAB-Sia3-AF647</text>
<text x="474.4" y="384.0" font-size="9.6" text-anchor="end" font-weight="normal" font-style="normal" fill="#231f20" >tetra-GRAB-Sia-AF488</text>
<text x="493.6" y="371.8" font-size="9.6" text-anchor="middle" font-weight="normal" font-style="normal" fill="#231f20" >−</text>
<text x="493.6" y="384.6" font-size="9.6" text-anchor="middle" font-weight="normal" font-style="normal" fill="#231f20" >−</text>
<text x="516.9" y="371.8" font-size="9.6" text-anchor="middle" font-weight="normal" font-style="normal" fill="#231f20" >+</text>
<text x="516.9" y="384.6" font-size="9.6" text-anchor="middle" font-weight="normal" font-style="normal" fill="#231f20" >−</text>
<text x="539.6" y="371.8" font-size="9.6" text-anchor="middle" font-weight="normal" font-style="normal" fill="#231f20" >+</text>
<text x="539.6" y="384.6" font-size="9.6" text-anchor="middle" font-weight="normal" font-style="normal" fill="#231f20" >+</text>
<line x1="603.5" y1="255.3" x2="603.5" y2="354.6" stroke="#6d6262" stroke-width="1"/>
<line x1="598.2" y1="354.5" x2="603.5" y2="354.5" stroke="#6d6262" stroke-width="1"/>
<text x="595.7" y="357.70000000000005" font-size="9.6" text-anchor="end" font-weight="normal" font-style="normal" fill="#231f20" >0</text>
<line x1="598.2" y1="334.5" x2="603.5" y2="334.5" stroke="#6d6262" stroke-width="1"/>
<text x="595.7" y="337.84000000000003" font-size="9.6" text-anchor="end" font-weight="normal" font-style="normal" fill="#231f20" >2</text>
<line x1="598.2" y1="314.5" x2="603.5" y2="314.5" stroke="#6d6262" stroke-width="1"/>
<text x="595.7" y="317.98" font-size="9.6" text-anchor="end" font-weight="normal" font-style="normal" fill="#231f20" >4</text>
<line x1="598.2" y1="295.5" x2="603.5" y2="295.5" stroke="#6d6262" stroke-width="1"/>
<text x="595.7" y="298.12000000000006" font-size="9.6" text-anchor="end" font-weight="normal" font-style="normal" fill="#231f20" >6</text>
<line x1="598.2" y1="275.5" x2="603.5" y2="275.5" stroke="#6d6262" stroke-width="1"/>
<text x="595.7" y="278.26000000000005" font-size="9.6" text-anchor="end" font-weight="normal" font-style="normal" fill="#231f20" >8</text>
<line x1="598.2" y1="255.5" x2="603.5" y2="255.5" stroke="#6d6262" stroke-width="1"/>
<text x="595.7" y="258.40000000000003" font-size="9.6" text-anchor="end" font-weight="normal" font-style="normal" fill="#231f20" >10</text>
<line x1="618.5" y1="354.6" x2="618.5" y2="358.8" stroke="#6d6262" stroke-width="1"/>
<line x1="640.5" y1="354.6" x2="640.5" y2="358.8" stroke="#6d6262" stroke-width="1"/>
<line x1="663.5" y1="354.6" x2="663.5" y2="358.8" stroke="#6d6262" stroke-width="1"/>
<path d="M611.50,354.6 L611.50,351.5 L625.50,351.5 L625.50,354.6" fill="none" stroke="#8a9098" stroke-width="1"/>
<path d="M634.50,354.6 L634.50,270.5 L647.50,270.5 L647.50,354.6" fill="none" stroke="#5b97da" stroke-width="1"/>
<path d="M656.50,354.6 L656.50,266.5 L670.50,266.5 L670.50,354.6" fill="none" stroke="#f2a25a" stroke-width="1"/>
<circle cx="613.3" cy="350.1" r="1.7" fill="#9aa0a8"/>
<circle cx="618.3" cy="351.0" r="1.7" fill="#9aa0a8"/>
<circle cx="623.2" cy="350.8" r="1.7" fill="#9aa0a8"/>
<line x1="603.5" y1="354.5" x2="678.6" y2="354.5" stroke="#6d6262" stroke-width="1"/>
<path d="M640.5,264.5 L640.5,275.5 M636.0,264.5 L644.6,264.5 M637.2,275.5 L644.6,275.5" stroke="#3a82d0" stroke-width="0.9" fill="none"/>
<circle cx="636.6" cy="265.4" r="2.0" fill="#3a82d0"/>
<circle cx="645.0" cy="268.0" r="2.0" fill="#3a82d0"/>
<circle cx="640.8" cy="276.4" r="2.0" fill="#3a82d0"/>
<path d="M663.5,261.5 L663.5,270.5 M659.0,261.5 L667.6,261.5 M660.0,270.5 L667.0,270.5" stroke="#f0903a" stroke-width="0.9" fill="none"/>
<circle cx="659.6" cy="262.9" r="2.0" fill="#f0903a"/>
<circle cx="667.3" cy="263.9" r="2.0" fill="#f0903a"/>
<circle cx="663.4" cy="271.1" r="2.0" fill="#f0903a"/>
<text x="574.6" y="302.25" font-size="9.8" text-anchor="middle" fill="#231f20" transform="rotate(-90 574.6 302.25)" dy="3.5">AF488 MFI (a.u.)</text>
<text x="613" y="228.8" font-size="9.6" text-anchor="start" fill="#231f20"><tspan font-style="italic">P</tspan> &lt; 0.0001</text>
<path d="M618.5,238.8 L618.5,232.5 L652.5,232.5 L652.5,238.5 M640.1,238.5 L663.6,238.5" fill="none" stroke="#7a6d6e" stroke-width="1"/>
<text x="628.1" y="251.4" font-size="9.6" font-style="italic" fill="#231f20">P</text>
<text x="637.9" y="251.4" font-size="9.6" fill="#231f20">=</text>
<text x="646.1" y="251.4" font-size="9.6" fill="#231f20" letter-spacing="0.43">0.5334</text>
<line x1="641.2" y1="255.5" x2="663" y2="255.5" stroke="#7a6d6e" stroke-width="1"/>
<text x="618.4" y="371.8" font-size="9.6" text-anchor="middle" font-weight="normal" font-style="normal" fill="#231f20" >−</text>
<text x="618.4" y="384.6" font-size="9.6" text-anchor="middle" font-weight="normal" font-style="normal" fill="#231f20" >−</text>
<text x="640.9" y="371.8" font-size="9.6" text-anchor="middle" font-weight="normal" font-style="normal" fill="#231f20" >−</text>
<text x="640.9" y="384.6" font-size="9.6" text-anchor="middle" font-weight="normal" font-style="normal" fill="#231f20" >+</text>
<text x="663.6" y="371.8" font-size="9.6" text-anchor="middle" font-weight="normal" font-style="normal" fill="#231f20" >+</text>
<text x="663.6" y="384.6" font-size="9.6" text-anchor="middle" font-weight="normal" font-style="normal" fill="#231f20" >+</text>
</svg>
</body></html>
